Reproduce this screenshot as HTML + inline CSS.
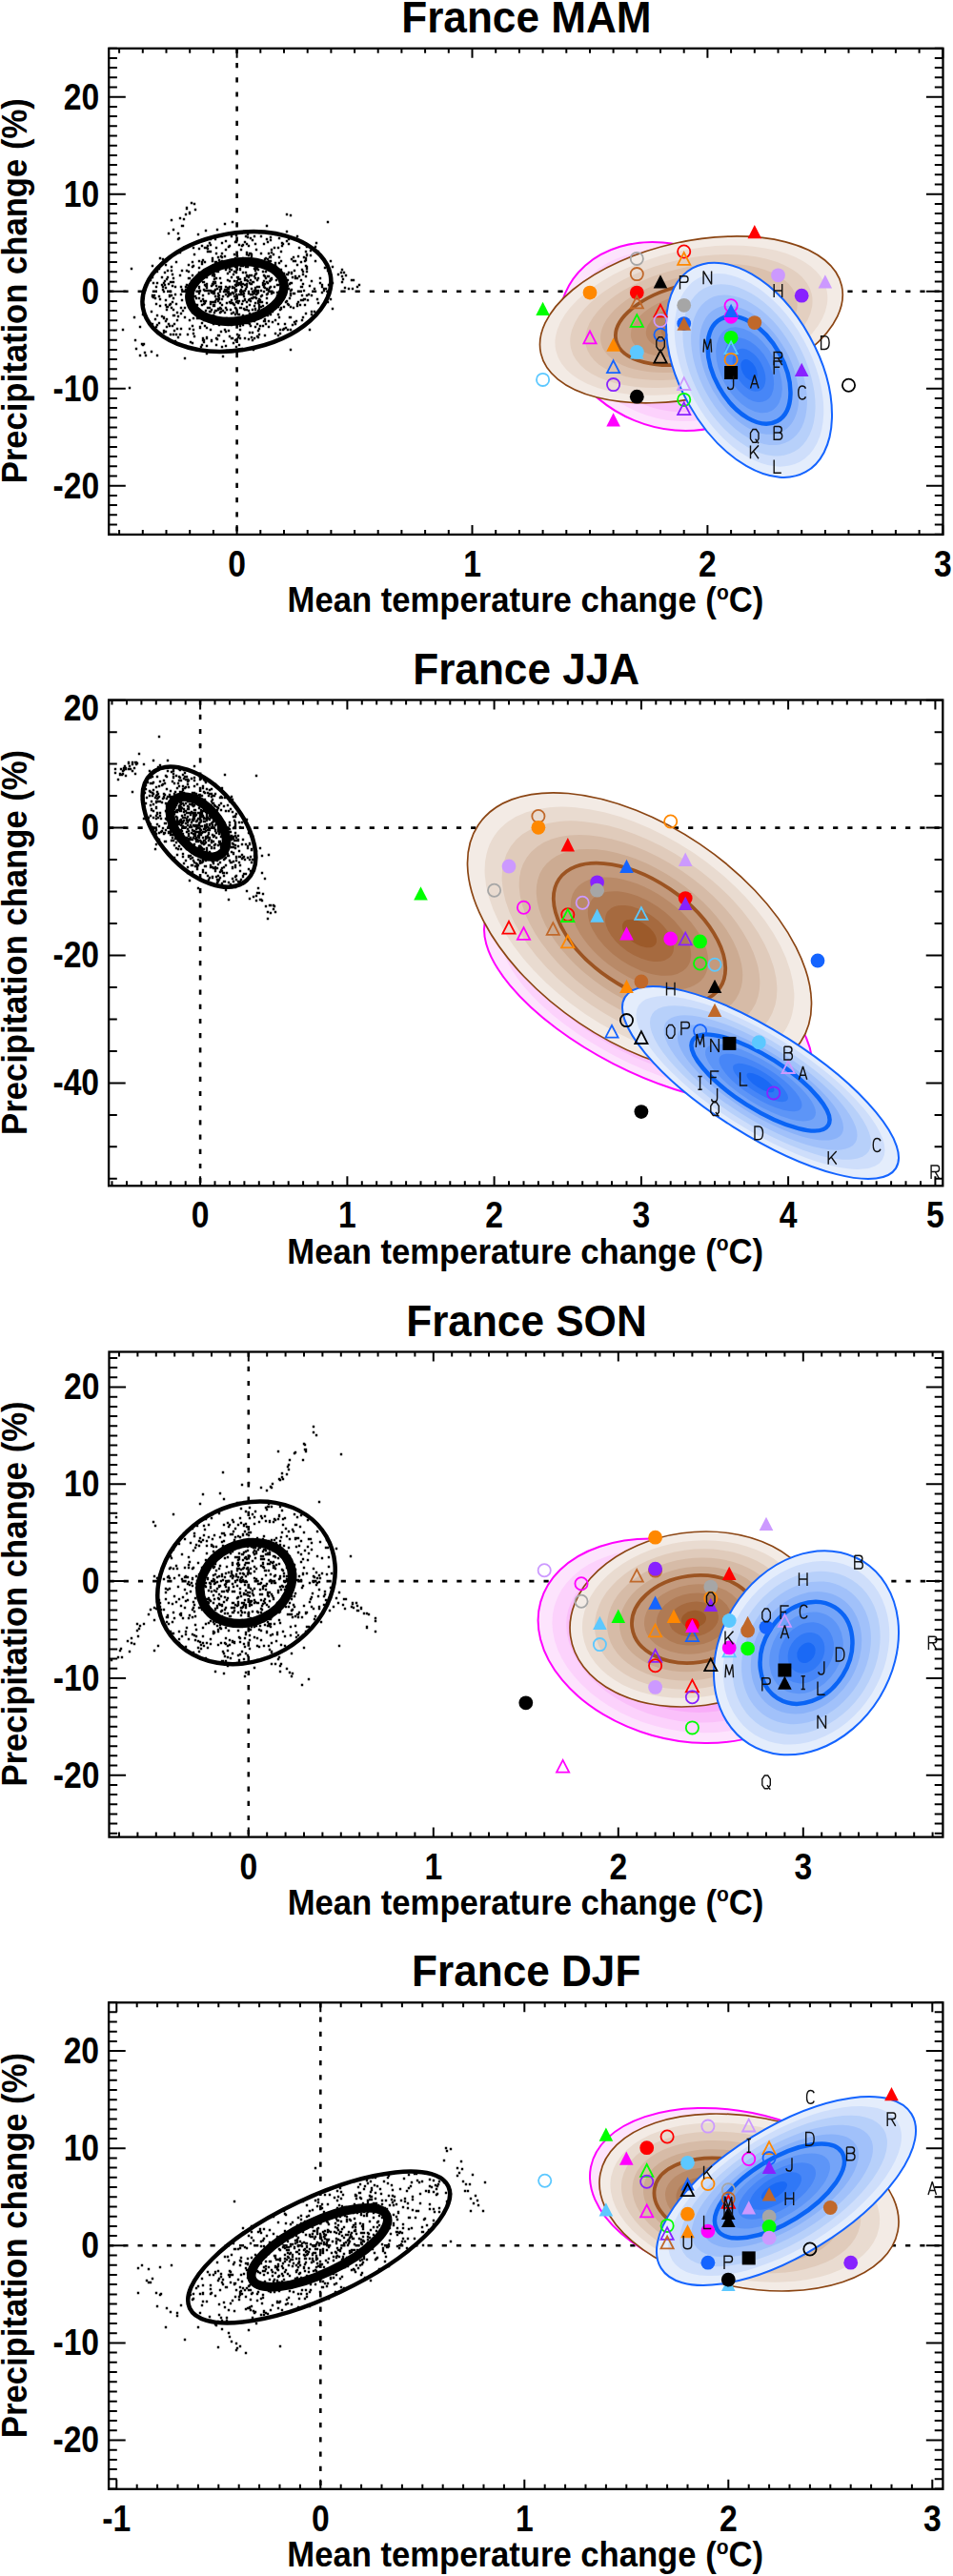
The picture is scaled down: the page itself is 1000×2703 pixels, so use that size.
<!DOCTYPE html><html><head><meta charset="utf-8"><style>html,body{margin:0;padding:0;background:#fff}svg{display:block}</style></head><body>
<svg width="1000" height="2703" viewBox="0 0 1000 2703" style="font-family:'Liberation Sans',sans-serif;font-weight:bold">
<defs><clipPath id="cp0"><rect x="114.2" y="50.8" width="875.3" height="510.1"/></clipPath><clipPath id="cp1"><rect x="114.1" y="734.5" width="875.2" height="509.8"/></clipPath><clipPath id="cp2"><rect x="114.5" y="1418.5" width="874.9" height="509.1"/></clipPath><clipPath id="cp3"><rect x="114.1" y="2101.3" width="875.3" height="510.5"/></clipPath></defs>
<g clip-path="url(#cp0)">
<line x1="248.6" y1="50.8" x2="248.6" y2="560.9" stroke="#000" stroke-width="2.6" stroke-dasharray="5.2 10"/>
<line x1="114.2" y1="305.7" x2="989.5" y2="305.7" stroke="#000" stroke-width="2.6" stroke-dasharray="5.2 10"/>
<path d="M287 267h0M205 311h0M321 329h0M270 281h0M244 307h0M293 291h0M265 306h0M284 293h0M240 310h0M206 322h0M252 323h0M246 311h0M202 275h0M327 295h0M217 344h0M164 343h0M222 357h0M301 253h0M240 303h0M260 280h0M190 301h0M192 326h0M257 276h0M239 307h0M216 242h0M278 337h0M316 294h0M267 290h0M298 291h0M242 338h0M349 297h0M243 248h0M182 296h0M323 315h0M263 332h0M226 326h0M209 286h0M277 306h0M181 288h0M284 252h0M281 272h0M255 306h0M287 321h0M301 316h0M225 306h0M238 281h0M240 308h0M226 316h0M287 284h0M191 284h0M271 305h0M237 283h0M262 349h0M269 262h0M225 289h0M224 340h0M217 371h0M283 276h0M309 284h0M248 309h0M257 294h0M217 300h0M221 251h0M222 325h0M229 285h0M295 323h0M213 310h0M342 303h0M194 376h0M262 340h0M331 274h0M293 276h0M277 301h0M262 320h0M251 277h0M187 354h0M228 356h0M322 259h0M231 304h0M320 320h0M200 359h0M185 351h0M251 316h0M288 282h0M237 348h0M338 301h0M271 316h0M250 318h0M223 317h0M252 346h0M281 290h0M289 285h0M230 310h0M268 305h0M227 355h0M243 315h0M344 284h0M260 338h0M164 301h0M200 303h0M249 316h0M291 299h0M322 280h0M236 328h0M296 258h0M223 335h0M224 298h0M249 316h0M263 309h0M262 272h0M263 294h0M253 296h0M294 356h0M270 275h0M160 311h0M266 296h0M241 317h0M322 267h0M217 260h0M227 314h0M247 357h0M318 288h0M174 302h0M220 323h0M305 305h0M236 304h0M262 314h0M267 282h0M226 297h0M202 306h0M223 271h0M200 312h0M255 331h0M322 268h0M241 301h0M167 311h0M257 254h0M221 264h0M229 270h0M321 264h0M216 300h0M259 336h0M239 294h0M190 309h0M247 299h0M277 256h0M334 264h0M261 258h0M170 332h0M176 355h0M282 337h0M309 338h0M305 333h0M273 317h0M248 304h0M241 309h0M288 260h0M238 337h0M223 299h0M280 251h0M184 301h0M170 291h0M244 318h0M248 285h0M314 290h0M293 333h0M231 335h0M247 306h0M216 316h0M261 268h0M225 289h0M280 303h0M293 250h0M292 299h0M246 267h0M236 328h0M203 346h0M216 326h0M282 277h0M248 247h0M247 271h0M183 340h0M321 279h0M258 248h0M203 350h0M227 260h0M292 340h0M237 309h0M247 280h0M244 302h0M306 287h0M228 277h0M270 353h0M315 320h0M216 331h0M225 288h0M237 363h0M204 300h0M268 256h0M266 367h0M338 307h0M217 354h0M253 262h0M232 297h0M129 346h0M243 355h0M262 315h0M249 269h0M236 269h0M280 318h0M269 313h0M180 284h0M309 308h0M175 274h0M259 294h0M224 320h0M231 318h0M267 279h0M263 342h0M176 284h0M347 314h0M207 334h0M172 349h0M298 345h0M256 311h0M231 318h0M175 325h0M266 308h0M245 319h0M256 308h0M215 260h0M186 345h0M187 265h0M334 318h0M202 289h0M235 306h0M226 317h0M215 275h0M233 255h0M298 296h0M316 275h0M268 312h0M202 342h0M317 310h0M276 321h0M340 305h0M308 323h0M287 307h0M286 327h0M303 256h0M222 317h0M231 328h0M165 285h0M224 287h0M228 241h0M306 272h0M278 331h0M231 306h0M238 304h0M217 355h0M227 326h0M179 306h0M279 292h0M349 324h0M326 268h0M301 225h0M307 341h0M138 282h0M247 254h0M302 288h0M141 333h0M259 317h0M310 274h0M194 333h0M289 320h0M273 315h0M312 320h0M282 274h0M254 301h0M284 270h0M290 280h0M165 341h0M317 283h0M281 254h0M247 330h0M162 310h0M181 342h0M322 310h0M273 342h0M247 304h0M222 358h0M154 300h0M203 301h0M289 246h0M225 293h0M196 310h0M272 301h0M240 245h0M221 327h0M203 260h0M303 251h0M180 323h0M248 278h0M229 311h0M242 309h0M243 355h0M301 300h0M184 309h0M259 265h0M238 279h0M243 291h0M276 299h0M247 334h0M174 348h0M226 296h0M181 300h0M347 274h0M209 302h0M245 328h0M179 319h0M209 261h0M203 334h0M163 313h0M260 295h0M270 294h0M177 340h0M232 348h0M265 349h0M191 315h0M306 297h0M238 368h0M186 328h0M241 336h0M292 330h0M199 299h0M171 304h0M221 319h0M260 336h0M213 314h0M279 285h0M316 315h0M227 275h0M211 364h0M238 318h0M248 317h0M234 277h0M263 332h0M279 285h0M282 305h0M253 323h0M195 363h0M319 305h0M268 318h0M327 310h0M246 295h0M247 314h0M274 322h0M252 355h0M197 308h0M283 295h0M292 260h0M172 347h0M172 306h0M210 305h0M173 299h0M224 308h0M203 323h0M242 337h0M233 314h0M220 283h0M284 269h0M242 317h0M282 290h0M268 292h0M202 360h0M271 283h0M230 313h0M223 281h0M325 300h0M321 273h0M173 295h0M258 272h0M285 292h0M226 311h0M248 305h0M265 313h0M229 324h0M319 270h0M251 362h0M204 299h0M286 338h0M289 278h0M177 245h0M227 314h0M229 352h0M231 275h0M304 313h0M223 289h0M215 342h0M370 303h0M261 291h0M232 324h0M193 260h0M203 316h0M278 352h0M199 303h0M302 346h0M255 309h0M276 342h0M227 362h0M321 290h0M306 304h0M321 271h0M245 308h0M330 263h0M252 342h0M341 281h0M208 295h0M274 248h0M218 261h0M249 351h0M227 292h0M196 299h0M277 300h0M281 297h0M202 328h0M235 277h0M204 320h0M268 325h0M271 347h0M278 329h0M185 275h0M284 330h0M230 324h0M261 315h0M272 345h0M262 329h0M177 298h0M267 337h0M251 297h0M223 274h0M214 304h0M251 330h0M187 251h0M263 289h0M191 304h0M261 290h0M230 352h0M251 257h0M318 315h0M286 245h0M268 288h0M261 334h0M311 337h0M182 351h0M241 285h0M268 304h0M252 282h0M225 296h0M320 274h0M312 248h0M240 347h0M259 294h0M237 309h0M270 276h0M327 330h0M230 314h0M300 292h0M200 309h0M197 351h0M252 293h0M282 266h0M300 344h0M293 309h0M278 272h0M280 237h0M300 279h0M294 289h0M187 332h0M281 331h0M233 364h0M263 250h0M318 298h0M288 323h0M278 290h0M195 301h0M203 279h0M182 313h0M251 309h0M267 355h0M275 317h0M305 226h0M324 309h0M198 278h0M298 295h0M237 301h0M277 295h0M236 346h0M256 324h0M246 285h0M291 246h0M212 362h0M215 318h0M248 300h0M248 254h0M199 292h0M312 292h0M264 313h0M245 328h0M344 317h0M310 290h0M253 304h0M291 307h0M316 301h0M253 299h0M257 325h0M221 327h0M267 329h0M298 287h0M240 308h0M292 322h0M160 340h0M300 317h0M227 266h0M285 262h0M203 311h0M295 264h0M175 322h0M182 296h0M244 355h0M239 302h0M271 292h0M220 255h0M190 345h0M225 290h0M248 300h0M303 303h0M189 289h0M288 316h0M305 297h0M212 252h0M295 294h0M253 279h0M215 299h0M206 325h0M259 298h0M298 288h0M252 355h0M254 319h0M244 233h0M239 287h0M244 301h0M172 297h0M226 339h0M197 302h0M282 304h0M202 313h0M248 253h0M243 341h0M287 320h0M310 340h0M253 307h0M240 259h0M298 302h0M254 306h0M259 325h0M248 324h0M271 292h0M214 316h0M274 305h0M265 357h0M263 298h0M305 346h0M285 308h0M219 337h0M264 269h0M268 343h0M318 285h0M242 325h0M248 312h0M261 326h0M289 276h0M179 351h0M251 352h0M174 278h0M312 319h0M312 278h0M189 351h0M225 328h0M269 305h0M175 293h0M211 316h0M280 313h0M219 285h0M269 287h0M170 299h0M212 258h0M267 332h0M243 283h0M294 294h0M267 248h0M204 353h0M258 303h0M171 272h0M250 354h0M218 323h0M306 286h0M266 312h0M265 296h0M231 335h0M308 274h0M175 335h0M180 310h0M234 311h0M250 293h0M268 324h0M214 336h0M327 327h0M224 331h0M279 271h0M298 304h0M261 306h0M228 303h0M221 346h0M302 300h0M174 320h0M261 308h0M340 303h0M232 327h0M231 337h0M280 296h0M229 314h0M220 332h0M182 292h0M213 355h0M210 328h0M276 285h0M301 243h0M245 288h0M229 308h0M221 257h0M174 315h0M200 301h0M214 296h0M237 262h0M226 275h0M305 322h0M271 326h0M160 291h0M279 340h0M257 355h0M222 285h0M278 302h0M284 301h0M295 283h0M209 301h0M226 304h0M167 282h0M278 330h0M268 302h0M212 277h0M274 266h0M255 298h0M225 321h0M266 329h0M255 316h0M194 323h0M289 350h0M255 279h0M253 297h0M276 279h0M262 297h0M159 327h0M225 308h0M174 337h0M289 336h0M302 294h0M259 289h0M262 297h0M270 308h0M234 326h0M206 313h0M201 295h0M249 291h0M207 320h0M215 305h0M158 294h0M213 357h0M181 317h0M221 305h0M265 336h0M265 252h0M301 288h0M214 335h0M263 266h0M257 338h0M230 273h0M183 347h0M169 277h0M291 313h0M233 270h0M183 331h0M229 316h0M236 235h0M214 319h0M209 281h0M285 293h0M271 301h0M304 333h0M272 320h0M214 357h0M233 320h0M203 311h0M219 305h0M272 322h0M277 289h0M200 316h0M271 354h0M246 302h0M259 290h0M260 249h0M233 314h0M151 308h0M299 340h0M210 344h0M215 333h0M275 310h0M227 284h0M319 314h0M338 299h0M258 280h0M204 267h0M173 286h0M190 323h0M217 298h0M217 286h0M253 309h0M238 334h0M313 317h0M190 329h0M218 305h0M189 265h0M175 343h0M185 319h0M297 314h0M298 322h0M264 298h0M219 308h0M231 336h0M179 296h0M300 309h0M217 291h0M283 302h0M178 320h0M277 337h0M227 300h0M212 275h0M223 272h0M202 280h0M269 309h0M332 255h0M285 265h0M242 318h0M360 293h0M237 253h0M325 346h0M255 271h0M242 308h0M307 291h0M294 325h0M219 264h0M198 285h0M198 292h0M267 308h0M217 302h0M272 324h0M231 323h0M241 353h0M222 300h0M295 288h0M224 296h0M182 331h0M250 299h0M167 339h0M212 339h0M272 244h0M284 294h0M260 339h0M208 246h0M295 324h0M336 297h0M259 267h0M331 259h0M308 308h0M293 270h0M284 274h0M172 334h0M272 314h0M265 325h0M308 270h0M209 302h0M322 282h0M271 318h0M272 351h0M223 298h0M255 286h0M233 266h0M259 300h0M260 246h0M248 286h0M310 292h0M230 301h0M151 320h0M295 306h0M303 320h0M330 327h0M305 310h0M281 308h0M195 304h0M292 352h0M248 364h0M183 267h0M304 298h0M230 341h0M168 321h0M250 330h0M247 323h0M165 297h0M217 354h0M293 308h0M264 267h0M259 339h0M260 279h0M274 311h0M237 276h0M290 294h0M259 322h0M180 280h0M229 325h0M317 301h0M271 307h0M238 325h0M263 330h0M218 264h0M264 303h0M255 333h0M345 299h0M270 305h0M220 305h0M280 304h0M171 301h0M217 305h0M209 313h0M293 306h0M237 323h0M295 274h0M314 260h0M241 295h0M224 321h0M270 340h0M259 301h0M266 332h0M257 314h0M320 314h0M252 298h0M232 301h0M282 343h0M284 249h0M188 250h0M225 332h0M199 345h0M163 335h0M136 407h0M209 334h0M228 277h0M225 317h0M250 291h0M255 257h0M182 325h0M235 358h0M297 256h0M278 335h0M164 319h0M278 298h0M265 306h0M264 354h0M220 327h0M165 331h0M213 273h0M180 296h0M267 305h0M230 336h0M330 303h0M296 295h0M283 270h0M209 308h0M255 341h0M298 302h0M269 282h0M303 286h0M147 343h0M178 342h0M243 329h0M262 289h0M212 320h0M178 311h0M305 367h0M218 336h0M161 297h0M217 333h0M261 356h0M231 292h0M288 301h0M298 304h0M267 321h0M257 315h0M209 274h0M291 310h0M211 294h0M313 269h0M302 319h0M210 343h0M232 269h0M246 320h0M349 280h0M160 279h0M270 301h0M317 336h0M276 297h0M226 251h0M280 275h0M211 327h0M265 309h0M297 346h0M213 296h0M326 263h0M196 284h0M176 322h0M257 305h0M241 282h0M234 374h0M210 331h0M225 320h0M227 277h0M233 274h0M259 256h0M172 333h0M214 359h0M218 258h0M257 292h0M226 275h0M241 258h0M375 301h0M254 258h0M239 311h0M160 310h0M294 350h0M240 275h0M245 360h0M306 286h0M263 316h0M336 292h0M168 314h0M322 285h0M199 336h0M294 346h0M241 339h0M268 305h0M318 333h0M150 330h0M312 321h0M305 308h0M186 336h0M296 255h0M168 271h0M176 291h0M268 281h0M178 310h0M283 274h0M333 314h0M232 303h0M257 299h0M217 363h0M262 266h0M276 299h0M161 312h0M184 358h0M221 317h0M212 333h0M289 288h0M258 339h0M268 284h0M228 285h0M280 309h0M222 307h0M264 289h0M344 233h0M252 283h0M258 286h0M229 314h0M196 219h0M199 223h0M195 225h0M193 230h0M204 214h0M187 245h0M196 218h0M205 220h0M189 229h0M191 237h0M182 241h0M180 231h0M201 213h0M192 237h0M199 224h0M363 289h0M369 294h0M371 294h0M366 303h0M361 286h0M362 302h0M359 296h0M377 299h0M359 290h0M355 288h0M359 283h0M358 286h0M147 373h0M152 370h0M151 361h0M143 366h0M165 373h0M149 361h0M159 369h0M153 373h0M142 357h0M150 362h0" stroke="#000" stroke-width="2.4" stroke-linecap="square" fill="none"/>
<ellipse transform="translate(248.4 306.0) rotate(-9.91)" rx="99.9" ry="61.3" fill="none" stroke="#000" stroke-width="4.5"/>
<ellipse transform="translate(248.4 306.0) rotate(-9.91)" rx="50.0" ry="30.6" fill="none" stroke="#000" stroke-width="9.5"/>
<ellipse transform="translate(702.0 353.0) rotate(22.46)" rx="118.0" ry="95.4" fill="#fde4fd"/><ellipse transform="translate(702.0 353.0) rotate(22.46)" rx="106.2" ry="85.8" fill="#fcd2fc"/><ellipse transform="translate(702.0 353.0) rotate(22.46)" rx="94.4" ry="76.3" fill="#fac0fa"/><ellipse transform="translate(702.0 353.0) rotate(22.46)" rx="82.6" ry="66.8" fill="#f9adf9"/><ellipse transform="translate(702.0 353.0) rotate(22.46)" rx="70.8" ry="57.2" fill="#f79bf7"/><ellipse transform="translate(702.0 353.0) rotate(22.46)" rx="59.0" ry="47.7" fill="#f689f6"/><ellipse transform="translate(702.0 353.0) rotate(22.46)" rx="47.2" ry="38.1" fill="#f477f4"/><ellipse transform="translate(702.0 353.0) rotate(22.46)" rx="35.4" ry="28.6" fill="#f364f3"/><ellipse transform="translate(702.0 353.0) rotate(22.46)" rx="23.6" ry="19.1" fill="#f152f1"/><ellipse transform="translate(702.0 353.0) rotate(22.46)" rx="11.8" ry="9.5" fill="#f040f0"/><ellipse transform="translate(702.0 353.0) rotate(22.46)" rx="118.0" ry="95.4" fill="none" stroke="#ff00ff" stroke-width="2"/><ellipse transform="translate(702.0 353.0) rotate(22.46)" rx="59.0" ry="47.7" fill="none" stroke="#ff00ff" stroke-width="4.5"/>
<ellipse transform="translate(725.4 335.4) rotate(-12.66)" rx="161.8" ry="81.9" fill="#f3ebe5"/><ellipse transform="translate(725.4 336.2) rotate(-12.66)" rx="145.6" ry="73.7" fill="#ebddd3"/><ellipse transform="translate(725.4 337.0) rotate(-12.66)" rx="129.5" ry="65.5" fill="#e3cfc0"/><ellipse transform="translate(725.4 337.8) rotate(-12.66)" rx="113.3" ry="57.3" fill="#dbc1ae"/><ellipse transform="translate(725.4 338.6) rotate(-12.66)" rx="97.1" ry="49.1" fill="#d3b39c"/><ellipse transform="translate(725.4 339.4) rotate(-12.66)" rx="80.9" ry="40.9" fill="#caa489"/><ellipse transform="translate(725.4 340.2) rotate(-12.66)" rx="64.7" ry="32.7" fill="#c29677"/><ellipse transform="translate(725.4 341.0) rotate(-12.66)" rx="48.5" ry="24.6" fill="#ba8865"/><ellipse transform="translate(725.4 341.8) rotate(-12.66)" rx="32.4" ry="16.4" fill="#b27a52"/><ellipse transform="translate(725.4 342.6) rotate(-12.66)" rx="16.2" ry="8.2" fill="#aa6c40"/><ellipse transform="translate(725.4 335.4) rotate(-12.66)" rx="161.8" ry="81.9" fill="none" stroke="#8b4513" stroke-width="1.7"/><ellipse transform="translate(725.4 339.4) rotate(-12.66)" rx="80.9" ry="40.9" fill="none" stroke="#9c5422" stroke-width="3.8"/>
<ellipse transform="translate(786.0 388.3) rotate(60.92)" rx="122.3" ry="72.7" fill="#e4edfc"/><ellipse transform="translate(786.0 388.3) rotate(60.92)" rx="110.1" ry="65.4" fill="#cedefb"/><ellipse transform="translate(786.0 388.3) rotate(60.92)" rx="97.9" ry="58.1" fill="#b7d0fa"/><ellipse transform="translate(786.0 388.3) rotate(60.92)" rx="85.6" ry="50.9" fill="#a1c1fa"/><ellipse transform="translate(786.0 388.3) rotate(60.92)" rx="73.4" ry="43.6" fill="#8ab2f9"/><ellipse transform="translate(786.0 388.3) rotate(60.92)" rx="61.2" ry="36.3" fill="#74a4f8"/><ellipse transform="translate(786.0 388.3) rotate(60.92)" rx="48.9" ry="29.1" fill="#5d95f7"/><ellipse transform="translate(786.0 388.3) rotate(60.92)" rx="36.7" ry="21.8" fill="#4786f7"/><ellipse transform="translate(786.0 388.3) rotate(60.92)" rx="24.5" ry="14.5" fill="#3078f6"/><ellipse transform="translate(786.0 388.3) rotate(60.92)" rx="12.2" ry="7.3" fill="#1a69f5"/><ellipse transform="translate(786.0 388.3) rotate(60.92)" rx="122.3" ry="72.7" fill="none" stroke="#1464ff" stroke-width="2"/><ellipse transform="translate(786.0 388.3) rotate(60.92)" rx="61.2" ry="36.3" fill="none" stroke="#0a64f5" stroke-width="4.5"/>
<path d="M569.6 316.7L576.9 331.0L562.3 331.0Z" fill="#00ff00"/>
<circle cx="569.6" cy="398.4" r="6.6" fill="none" stroke="#5cc8ff" stroke-width="1.8"/>
<circle cx="619.0" cy="307.1" r="7.4" fill="#ff8800"/>
<path d="M619.0 347.5L625.6 360.3L612.4 360.3Z" fill="none" stroke="#ff00ff" stroke-width="1.8" stroke-linejoin="miter"/>
<path d="M643.6 354.5L650.9 368.8L636.3 368.8Z" fill="#ff8800"/>
<path d="M643.6 378.3L650.2 391.1L637.0 391.1Z" fill="none" stroke="#1464ff" stroke-width="1.8" stroke-linejoin="miter"/>
<circle cx="643.6" cy="403.6" r="6.6" fill="none" stroke="#8822ff" stroke-width="1.8"/>
<path d="M643.6 433.2L650.9 447.5L636.3 447.5Z" fill="#ff00ff"/>
<circle cx="668.3" cy="271.4" r="6.6" fill="none" stroke="#a6a6a6" stroke-width="1.8"/>
<circle cx="668.3" cy="287.6" r="6.6" fill="none" stroke="#c0682a" stroke-width="1.8"/>
<circle cx="668.3" cy="307.1" r="7.4" fill="#ff0000"/>
<path d="M668.3 310.6L674.9 323.4L661.7 323.4Z" fill="none" stroke="#c0682a" stroke-width="1.8" stroke-linejoin="miter"/>
<path d="M668.3 330.1L674.9 342.9L661.7 342.9Z" fill="none" stroke="#00ff00" stroke-width="1.8" stroke-linejoin="miter"/>
<path d="M668.3 362.2L675.6 376.5L661.0 376.5Z" fill="#5cc8ff"/>
<circle cx="668.3" cy="369.4" r="7.4" fill="#5cc8ff"/>
<circle cx="668.3" cy="416.2" r="7.4" fill="#000000"/>
<path d="M693.0 288.3L700.3 302.6L685.7 302.6Z" fill="#000000"/>
<path d="M693.0 319.6L699.6 332.4L686.4 332.4Z" fill="none" stroke="#ff0000" stroke-width="1.8" stroke-linejoin="miter"/>
<circle cx="693.0" cy="336.5" r="6.6" fill="none" stroke="#cc99ff" stroke-width="1.8"/>
<circle cx="693.0" cy="351.2" r="6.6" fill="none" stroke="#1464ff" stroke-width="1.8"/>
<path d="M693.0 367.8L699.6 380.6L686.4 380.6Z" fill="none" stroke="#000000" stroke-width="1.8" stroke-linejoin="miter"/>
<circle cx="717.7" cy="264.0" r="6.6" fill="none" stroke="#ff0000" stroke-width="1.8"/>
<path d="M717.7 265.0L724.3 277.8L711.1 277.8Z" fill="none" stroke="#ff8800" stroke-width="1.8" stroke-linejoin="miter"/>
<circle cx="717.7" cy="320.3" r="7.4" fill="#a6a6a6"/>
<circle cx="717.7" cy="339.6" r="7.4" fill="#1464ff"/>
<path d="M717.7 332.4L725.0 346.7L710.4 346.7Z" fill="#c0682a"/>
<path d="M717.7 396.2L724.3 409.0L711.1 409.0Z" fill="none" stroke="#cc99ff" stroke-width="1.8" stroke-linejoin="miter"/>
<circle cx="717.7" cy="419.4" r="6.6" fill="none" stroke="#00ff00" stroke-width="1.8"/>
<path d="M717.7 422.4L724.3 435.2L711.1 435.2Z" fill="none" stroke="#8822ff" stroke-width="1.8" stroke-linejoin="miter"/>
<path d="M791.8 235.9L799.1 250.2L784.5 250.2Z" fill="#ff0000"/>
<circle cx="816.5" cy="288.8" r="7.4" fill="#cc99ff"/>
<path d="M865.9 288.3L873.1 302.6L858.6 302.6Z" fill="#cc99ff"/>
<circle cx="841.2" cy="310.2" r="7.4" fill="#8822ff"/>
<circle cx="767.1" cy="332.3" r="7.4" fill="#ff00ff"/>
<circle cx="767.1" cy="320.7" r="6.6" fill="none" stroke="#ff00ff" stroke-width="1.8"/>
<path d="M767.1 318.8L774.4 333.1L759.8 333.1Z" fill="#1464ff"/>
<circle cx="791.8" cy="338.6" r="7.4" fill="#c0682a"/>
<circle cx="767.1" cy="354.3" r="7.4" fill="#00ff00"/>
<path d="M767.1 358.4L773.7 371.2L760.5 371.2Z" fill="none" stroke="#5cc8ff" stroke-width="1.8" stroke-linejoin="miter"/>
<circle cx="767.1" cy="377.4" r="6.6" fill="none" stroke="#ff8800" stroke-width="1.8"/>
<rect x="760.1" y="384.0" width="14" height="14" fill="#000000"/>
<path d="M841.2 380.7L848.5 395.0L833.9 395.0Z" fill="#8822ff"/>
<circle cx="890.5" cy="404.3" r="6.6" fill="none" stroke="#000000" stroke-width="1.8"/>
<g fill="none" stroke="#111" stroke-width="1.65" stroke-miterlimit="3"><path transform="translate(688.8 353.7) scale(0.85 0.92)" d="M3 0H7L10 4V11L7 15H3L0 11V4Z"/><path transform="translate(713.5 289.7) scale(0.85 0.92)" d="M0 15V0H7Q10 0 10 3.5Q10 7 7 7H0"/><path transform="translate(738.1 284.5) scale(0.85 0.92)" d="M0 15V0L10 15V0"/><path transform="translate(738.1 355.8) scale(0.85 0.92)" d="M0 15L1 0L5 12L9 0L10 15"/><path transform="translate(812.2 298.1) scale(0.85 0.92)" d="M0 0V15M10 0V15M0 7.5H10"/><path transform="translate(762.8 394.6) scale(0.85 0.92)" d="M8 0V11Q8 15 4.5 15Q1 15 1 12"/><path transform="translate(787.5 393.6) scale(0.85 0.92)" d="M0 15L5 0L10 15M2 10H8"/><path transform="translate(812.2 369.4) scale(0.85 0.92)" d="M0 15V0H7Q10 0 10 3.5Q10 7 7 7H0M5 7L10 15"/><path transform="translate(812.2 378.9) scale(0.85 0.92)" d="M10 0H0V15M0 7H7"/><path transform="translate(861.6 352.7) scale(0.85 0.92)" d="M0 0H4.5Q10 0 10 7.5Q10 15 4.5 15H0Z"/><path transform="translate(836.9 405.1) scale(0.85 0.92)" d="M10 3Q9 0 5.5 0Q1 0 1 7.5Q1 15 5.5 15Q9 15 10 12"/><path transform="translate(787.5 450.5) scale(0.85 0.92)" d="M3 0H7L10 4V11L7 15H3L0 11V4ZM6 11L10 16"/><path transform="translate(812.2 447.5) scale(0.85 0.92)" d="M0 0H6Q9.5 0 9.5 3.6Q9.5 7 6 7H0M6 7Q10 7 10 11Q10 15 6 15H0V0"/><path transform="translate(787.5 467.4) scale(0.85 0.92)" d="M0 0V15M10 0L0 10M3.5 6.5L10 15"/><path transform="translate(812.2 482.4) scale(0.85 0.92)" d="M0 0V15H9"/></g>
</g>
<g clip-path="url(#cp1)">
<line x1="210.1" y1="734.5" x2="210.1" y2="1244.3" stroke="#000" stroke-width="2.6" stroke-dasharray="5.2 10"/>
<line x1="114.1" y1="868.6" x2="989.3" y2="868.6" stroke="#000" stroke-width="2.6" stroke-dasharray="5.2 10"/>
<path d="M220 870h0M229 848h0M183 835h0M234 916h0M179 873h0M250 877h0M208 873h0M189 861h0M232 863h0M209 873h0M228 897h0M199 844h0M204 816h0M222 828h0M269 893h0M210 834h0M182 848h0M230 845h0M247 856h0M160 822h0M216 909h0M205 853h0M235 867h0M245 878h0M175 846h0M218 902h0M239 871h0M225 845h0M208 843h0M198 848h0M217 865h0M220 860h0M227 862h0M202 871h0M204 857h0M264 905h0M207 907h0M224 906h0M278 922h0M230 883h0M248 919h0M234 886h0M251 863h0M194 811h0M214 902h0M230 893h0M191 848h0M196 859h0M206 909h0M239 887h0M215 873h0M237 900h0M264 892h0M213 904h0M181 836h0M207 912h0M207 866h0M199 868h0M233 896h0M211 884h0M189 861h0M232 866h0M204 832h0M202 861h0M194 858h0M216 852h0M238 869h0M232 878h0M205 856h0M228 850h0M186 862h0M217 900h0M204 886h0M210 853h0M188 847h0M210 846h0M216 878h0M255 881h0M204 858h0M159 841h0M168 856h0M182 849h0M236 813h0M213 899h0M208 890h0M160 815h0M198 875h0M231 905h0M252 914h0M198 849h0M213 902h0M170 842h0M153 824h0M191 856h0M233 863h0M202 843h0M218 832h0M204 867h0M233 927h0M185 857h0M193 808h0M230 874h0M213 825h0M189 839h0M176 798h0M203 866h0M176 809h0M216 869h0M247 864h0M217 856h0M208 843h0M218 850h0M190 842h0M185 845h0M218 871h0M164 847h0M158 845h0M205 897h0M219 874h0M209 845h0M192 828h0M245 925h0M189 874h0M239 885h0M180 882h0M164 859h0M193 839h0M217 867h0M189 833h0M172 875h0M197 849h0M164 835h0M192 899h0M192 863h0M220 871h0M185 880h0M232 891h0M191 864h0M156 858h0M183 900h0M210 882h0M187 882h0M219 848h0M226 846h0M248 854h0M188 807h0M244 852h0M260 888h0M184 831h0M197 870h0M185 884h0M234 875h0M231 883h0M252 868h0M171 838h0M221 855h0M200 853h0M218 868h0M214 886h0M209 888h0M211 899h0M181 879h0M238 916h0M211 857h0M221 858h0M172 874h0M179 874h0M226 851h0M165 834h0M275 898h0M184 869h0M269 945h0M242 873h0M203 879h0M213 873h0M215 882h0M227 874h0M220 866h0M179 855h0M201 863h0M247 868h0M189 816h0M196 861h0M222 884h0M214 891h0M254 863h0M246 868h0M244 911h0M189 875h0M186 865h0M222 836h0M190 860h0M217 925h0M182 815h0M194 855h0M179 837h0M194 815h0M248 899h0M165 815h0M213 879h0M226 914h0M282 897h0M205 880h0M201 908h0M171 869h0M204 841h0M203 846h0M223 867h0M186 850h0M223 868h0M220 829h0M188 862h0M209 882h0M218 896h0M204 877h0M219 923h0M245 857h0M218 901h0M241 887h0M199 885h0M208 902h0M186 864h0M202 860h0M228 902h0M238 895h0M161 844h0M242 928h0M262 885h0M195 818h0M160 835h0M211 876h0M193 845h0M151 859h0M186 859h0M214 897h0M226 871h0M205 853h0M198 861h0M168 841h0M204 819h0M236 886h0M222 890h0M183 833h0M244 910h0M197 841h0M196 891h0M230 872h0M238 869h0M214 850h0M168 803h0M250 882h0M185 890h0M167 773h0M258 917h0M189 842h0M213 857h0M157 809h0M195 903h0M209 879h0M163 873h0M193 849h0M211 883h0M186 870h0M204 859h0M185 851h0M190 866h0M164 886h0M184 852h0M250 877h0M189 845h0M206 870h0M171 806h0M209 891h0M192 867h0M209 814h0M255 900h0M243 836h0M176 836h0M204 845h0M188 825h0M183 849h0M210 835h0M241 863h0M252 926h0M164 856h0M243 879h0M192 813h0M216 852h0M191 831h0M139 831h0M241 866h0M181 870h0M182 808h0M245 896h0M252 925h0M179 830h0M220 856h0M190 844h0M242 905h0M236 887h0M203 875h0M259 860h0M167 825h0M198 853h0M224 851h0M202 900h0M193 852h0M234 930h0M223 843h0M194 851h0M164 841h0M187 870h0M216 884h0M241 841h0M244 922h0M209 866h0M212 855h0M173 874h0M224 862h0M197 863h0M237 934h0M248 879h0M225 896h0M219 848h0M240 889h0M186 868h0M186 843h0M230 884h0M212 890h0M225 835h0M240 926h0M216 878h0M213 844h0M265 881h0M243 877h0M184 847h0M243 889h0M210 818h0M204 804h0M198 898h0M166 805h0M231 837h0M217 861h0M164 826h0M255 919h0M212 854h0M222 882h0M180 869h0M240 870h0M223 904h0M203 857h0M177 867h0M206 891h0M217 867h0M231 921h0M197 820h0M198 886h0M186 861h0M211 889h0M173 834h0M189 850h0M247 931h0M235 925h0M225 887h0M234 882h0M229 925h0M215 851h0M220 887h0M208 883h0M217 854h0M164 848h0M236 930h0M180 839h0M190 849h0M263 899h0M243 905h0M168 853h0M214 891h0M260 890h0M258 886h0M220 865h0M214 859h0M206 833h0M211 862h0M233 864h0M247 887h0M261 874h0M222 851h0M206 883h0M192 843h0M212 857h0M200 879h0M186 827h0M231 885h0M161 858h0M203 875h0M212 891h0M202 845h0M201 852h0M228 847h0M203 861h0M243 881h0M247 874h0M170 824h0M225 877h0M216 821h0M219 875h0M240 888h0M253 923h0M182 816h0M213 915h0M161 829h0M206 882h0M216 903h0M229 865h0M239 876h0M198 835h0M227 895h0M232 897h0M215 885h0M247 908h0M198 847h0M267 898h0M205 874h0M191 833h0M241 878h0M165 865h0M176 843h0M200 855h0M188 841h0M217 892h0M221 908h0M204 876h0M190 891h0M215 867h0M198 899h0M223 921h0M217 878h0M180 841h0M210 815h0M230 867h0M256 917h0M167 836h0M215 832h0M206 836h0M207 861h0M236 901h0M161 851h0M262 886h0M240 898h0M211 840h0M217 893h0M235 846h0M202 908h0M178 834h0M225 858h0M197 846h0M173 864h0M197 818h0M164 871h0M261 912h0M174 871h0M200 898h0M211 814h0M236 925h0M210 817h0M202 843h0M205 833h0M204 859h0M233 837h0M210 855h0M203 872h0M165 831h0M208 869h0M204 905h0M182 856h0M149 839h0M243 894h0M192 837h0M191 862h0M220 894h0M187 850h0M217 890h0M173 822h0M246 882h0M252 908h0M158 813h0M214 858h0M196 853h0M213 845h0M168 820h0M196 885h0M206 906h0M203 832h0M214 851h0M232 850h0M161 871h0M172 819h0M212 815h0M223 876h0M235 873h0M227 864h0M235 902h0M239 873h0M179 853h0M212 852h0M178 848h0M188 865h0M238 882h0M177 874h0M195 868h0M220 859h0M262 902h0M176 844h0M222 853h0M218 858h0M233 827h0M167 874h0M187 822h0M196 873h0M211 867h0M226 912h0M211 835h0M254 897h0M199 868h0M199 924h0M192 829h0M233 890h0M166 837h0M197 823h0M212 905h0M203 903h0M264 891h0M207 883h0M220 921h0M220 880h0M230 875h0M218 897h0M245 904h0M188 888h0M200 888h0M176 854h0M241 873h0M233 885h0M229 919h0M200 901h0M204 896h0M257 902h0M188 815h0M246 843h0M171 838h0M217 828h0M195 851h0M238 886h0M153 843h0M235 883h0M196 879h0M242 849h0M180 837h0M165 853h0M211 861h0M224 905h0M204 872h0M208 877h0M190 874h0M197 823h0M227 896h0M184 880h0M201 844h0M226 910h0M166 833h0M189 851h0M217 858h0M197 866h0M237 883h0M266 884h0M220 871h0M174 843h0M200 868h0M179 876h0M192 862h0M182 812h0M207 835h0M171 823h0M196 815h0M215 848h0M153 828h0M223 866h0M233 887h0M215 859h0M210 863h0M233 911h0M216 880h0M206 855h0M209 874h0M158 831h0M245 895h0M142 812h0M199 841h0M179 871h0M252 899h0M193 879h0M247 920h0M190 840h0M226 823h0M233 914h0M213 851h0M190 863h0M237 869h0M239 896h0M219 852h0M248 900h0M229 868h0M189 831h0M208 878h0M141 806h0M223 863h0M231 883h0M183 854h0M232 861h0M204 839h0M230 923h0M195 864h0M235 863h0M235 893h0M193 832h0M211 842h0M190 847h0M219 887h0M206 862h0M170 872h0M166 841h0M226 872h0M202 881h0M215 839h0M226 911h0M155 821h0M163 837h0M207 823h0M211 871h0M205 866h0M204 825h0M214 818h0M214 831h0M220 845h0M157 830h0M230 863h0M231 886h0M168 820h0M186 852h0M198 819h0M199 844h0M232 887h0M169 859h0M195 826h0M229 872h0M211 851h0M228 903h0M190 851h0M237 882h0M172 837h0M231 915h0M182 870h0M239 896h0M194 827h0M179 844h0M202 915h0M238 878h0M247 863h0M175 815h0M210 782h0M213 884h0M175 838h0M233 875h0M175 844h0M208 853h0M247 877h0M223 920h0M244 930h0M235 919h0M215 819h0M203 859h0M172 836h0M216 872h0M173 883h0M211 817h0M218 919h0M181 820h0M166 858h0M226 858h0M248 903h0M174 864h0M219 898h0M189 831h0M212 846h0M222 902h0M232 836h0M178 842h0M247 890h0M245 869h0M188 846h0M202 832h0M203 887h0M160 868h0M197 857h0M212 835h0M182 836h0M267 889h0M203 853h0M217 828h0M176 853h0M207 881h0M229 870h0M201 817h0M166 837h0M263 914h0M192 875h0M273 890h0M239 845h0M161 798h0M188 863h0M235 910h0M191 836h0M217 855h0M184 831h0M227 879h0M251 893h0M232 892h0M186 870h0M186 836h0M204 850h0M250 888h0M216 850h0M206 879h0M191 872h0M193 868h0M275 916h0M201 853h0M251 905h0M265 877h0M206 879h0M180 856h0M228 911h0M212 874h0M214 862h0M269 814h0M213 840h0M165 838h0M210 855h0M198 880h0M250 925h0M211 853h0M240 944h0M245 886h0M239 898h0M205 909h0M197 910h0M193 817h0M229 861h0M190 819h0M196 808h0M183 868h0M174 883h0M209 877h0M158 865h0M213 827h0M186 859h0M180 810h0M241 878h0M219 859h0M247 866h0M183 822h0M238 877h0M175 828h0M236 884h0M205 854h0M209 875h0M186 879h0M235 916h0M225 869h0M200 887h0M224 852h0M202 861h0M187 891h0M174 851h0M228 923h0M222 858h0M226 854h0M240 851h0M192 825h0M213 839h0M237 851h0M175 860h0M219 835h0M169 873h0M251 899h0M159 850h0M260 900h0M259 935h0M229 907h0M160 832h0M254 901h0M214 870h0M213 913h0M177 836h0M188 819h0M161 821h0M216 859h0M222 841h0M185 814h0M213 844h0M189 876h0M208 859h0M245 869h0M210 870h0M217 866h0M217 850h0M198 826h0M211 894h0M235 877h0M198 883h0M236 837h0M215 870h0M247 910h0M213 856h0M186 897h0M224 911h0M185 843h0M215 909h0M218 859h0M158 816h0M199 880h0M236 867h0M200 881h0M226 833h0M234 871h0M197 883h0M152 832h0M233 876h0M199 860h0M211 850h0M209 839h0M165 854h0M232 895h0M215 862h0M194 883h0M207 910h0M203 855h0M247 863h0M176 858h0M228 854h0M206 880h0M198 881h0M172 833h0M201 868h0M221 910h0M215 866h0M223 853h0M193 861h0M245 889h0M183 887h0M245 880h0M222 841h0M241 870h0M195 843h0M198 877h0M164 842h0M222 889h0M193 878h0M226 886h0M174 814h0M203 856h0M208 932h0M205 875h0M214 851h0M219 882h0M232 843h0M188 847h0M193 880h0M244 885h0M236 882h0M186 863h0M212 867h0M205 850h0M256 899h0M159 849h0M210 904h0M166 808h0M228 926h0M223 848h0M248 923h0M227 855h0M265 902h0M224 883h0M223 867h0M157 864h0M241 903h0M262 943h0M212 874h0M186 841h0M227 920h0M254 886h0M212 885h0M193 906h0M167 881h0M225 869h0M177 873h0M229 887h0M197 862h0M247 869h0M222 833h0M222 846h0M182 809h0M215 868h0M192 858h0M188 849h0M201 874h0M255 920h0M203 810h0M246 861h0M250 881h0M192 868h0M192 896h0M167 867h0M234 892h0M234 886h0M223 910h0M216 896h0M157 835h0M220 848h0M237 908h0M184 844h0M182 882h0M200 866h0M200 866h0M191 864h0M205 877h0M232 889h0M158 856h0M200 837h0M205 867h0M218 879h0M198 872h0M197 916h0M206 873h0M222 864h0M185 867h0M203 891h0M181 876h0M218 877h0M190 871h0M151 830h0M223 835h0M215 898h0M189 846h0M189 874h0M163 891h0M207 867h0M219 849h0M189 808h0M224 860h0M203 858h0M247 857h0M212 853h0M220 879h0M212 852h0M244 839h0M178 836h0M237 886h0M232 913h0M224 878h0M186 858h0M219 869h0M209 848h0M154 837h0M209 834h0M186 834h0M209 864h0M216 916h0M164 875h0M214 882h0M219 927h0M223 839h0M178 897h0M226 866h0M174 859h0M225 890h0M158 822h0M179 836h0M237 893h0M208 908h0M210 854h0M185 865h0M226 871h0M248 882h0M161 833h0M220 833h0M192 867h0M200 834h0M224 843h0M139 800h0M139 809h0M135 800h0M139 802h0M128 813h0M143 802h0M124 818h0M137 807h0M130 808h0M121 807h0M130 806h0M135 807h0M146 791h0M121 811h0M127 807h0M143 800h0M132 814h0M144 801h0M126 812h0M132 806h0M136 804h0M135 801h0M129 812h0M129 809h0M131 804h0M151 802h0M142 800h0M127 807h0M132 807h0M126 813h0M288 951h0M287 954h0M287 950h0M269 940h0M281 957h0M276 938h0M275 945h0M272 937h0M284 950h0M274 944h0M273 944h0M279 951h0M271 932h0M283 950h0M270 937h0M281 964h0M289 957h0M266 941h0M283 950h0M284 958h0" stroke="#000" stroke-width="2.4" stroke-linecap="square" fill="none"/>
<ellipse transform="translate(209.0 867.6) rotate(48.45)" rx="75.0" ry="43.1" fill="none" stroke="#000" stroke-width="4.5"/>
<ellipse transform="translate(208.0 867.6) rotate(48.45)" rx="37.5" ry="21.6" fill="none" stroke="#000" stroke-width="9.5"/>
<ellipse transform="translate(680.0 1045.0) rotate(27.25)" rx="189.0" ry="80.0" fill="#fde4fd"/><ellipse transform="translate(680.0 1045.0) rotate(27.25)" rx="170.1" ry="72.0" fill="#fcd2fc"/><ellipse transform="translate(680.0 1045.0) rotate(27.25)" rx="151.2" ry="64.0" fill="#fac0fa"/><ellipse transform="translate(680.0 1045.0) rotate(27.25)" rx="132.3" ry="56.0" fill="#f9adf9"/><ellipse transform="translate(680.0 1045.0) rotate(27.25)" rx="113.4" ry="48.0" fill="#f79bf7"/><ellipse transform="translate(680.0 1045.0) rotate(27.25)" rx="94.5" ry="40.0" fill="#f689f6"/><ellipse transform="translate(680.0 1045.0) rotate(27.25)" rx="75.6" ry="32.0" fill="#f477f4"/><ellipse transform="translate(680.0 1045.0) rotate(27.25)" rx="56.7" ry="24.0" fill="#f364f3"/><ellipse transform="translate(680.0 1045.0) rotate(27.25)" rx="37.8" ry="16.0" fill="#f152f1"/><ellipse transform="translate(680.0 1045.0) rotate(27.25)" rx="18.9" ry="8.0" fill="#f040f0"/><ellipse transform="translate(680.0 1045.0) rotate(27.25)" rx="189.0" ry="80.0" fill="none" stroke="#ff00ff" stroke-width="2"/><ellipse transform="translate(680.0 1045.0) rotate(27.25)" rx="94.5" ry="40.0" fill="none" stroke="#ff00ff" stroke-width="4.5"/>
<ellipse transform="translate(671.0 979.5) rotate(34.01)" rx="203.9" ry="113.2" fill="#f3ebe5"/><ellipse transform="translate(671.0 979.5) rotate(34.01)" rx="183.5" ry="101.9" fill="#e9dbd0"/><ellipse transform="translate(671.0 979.5) rotate(34.01)" rx="163.1" ry="90.6" fill="#e0cbbb"/><ellipse transform="translate(671.0 979.5) rotate(34.01)" rx="142.7" ry="79.3" fill="#d6bba7"/><ellipse transform="translate(671.0 979.5) rotate(34.01)" rx="122.3" ry="67.9" fill="#ccab92"/><ellipse transform="translate(671.0 979.5) rotate(34.01)" rx="101.9" ry="56.6" fill="#c39a7d"/><ellipse transform="translate(671.0 979.5) rotate(34.01)" rx="81.6" ry="45.3" fill="#b98a68"/><ellipse transform="translate(671.0 979.5) rotate(34.01)" rx="61.2" ry="34.0" fill="#af7a54"/><ellipse transform="translate(671.0 979.5) rotate(34.01)" rx="40.8" ry="22.6" fill="#a66a3f"/><ellipse transform="translate(671.0 979.5) rotate(34.01)" rx="20.4" ry="11.3" fill="#9c5a2a"/><ellipse transform="translate(671.0 979.5) rotate(34.01)" rx="203.9" ry="113.2" fill="none" stroke="#8b4513" stroke-width="1.7"/><ellipse transform="translate(671.0 979.5) rotate(34.01)" rx="101.9" ry="56.6" fill="none" stroke="#9c5422" stroke-width="3.8"/>
<ellipse transform="translate(798.0 1136.0) rotate(32.32)" rx="168.1" ry="54.5" fill="#e4edfc"/><ellipse transform="translate(798.0 1136.0) rotate(32.32)" rx="151.3" ry="49.1" fill="#cedefb"/><ellipse transform="translate(798.0 1136.0) rotate(32.32)" rx="134.5" ry="43.6" fill="#b7d0fa"/><ellipse transform="translate(798.0 1136.0) rotate(32.32)" rx="117.7" ry="38.2" fill="#a1c1fa"/><ellipse transform="translate(798.0 1136.0) rotate(32.32)" rx="100.9" ry="32.7" fill="#8ab2f9"/><ellipse transform="translate(798.0 1136.0) rotate(32.32)" rx="84.0" ry="27.3" fill="#74a4f8"/><ellipse transform="translate(798.0 1136.0) rotate(32.32)" rx="67.2" ry="21.8" fill="#5d95f7"/><ellipse transform="translate(798.0 1136.0) rotate(32.32)" rx="50.4" ry="16.4" fill="#4786f7"/><ellipse transform="translate(798.0 1136.0) rotate(32.32)" rx="33.6" ry="10.9" fill="#3078f6"/><ellipse transform="translate(798.0 1136.0) rotate(32.32)" rx="16.8" ry="5.5" fill="#1a69f5"/><ellipse transform="translate(798.0 1136.0) rotate(32.32)" rx="168.1" ry="54.5" fill="none" stroke="#1464ff" stroke-width="2"/><ellipse transform="translate(798.0 1136.0) rotate(32.32)" rx="84.0" ry="27.3" fill="none" stroke="#0a64f5" stroke-width="4.5"/>
<path d="M441.5 930.3L448.8 944.6L434.2 944.6Z" fill="#00ff00"/>
<circle cx="564.9" cy="856.5" r="6.6" fill="none" stroke="#c0682a" stroke-width="1.8"/>
<circle cx="564.9" cy="868.3" r="7.4" fill="#ff8800"/>
<circle cx="703.7" cy="862.0" r="6.6" fill="none" stroke="#ff8800" stroke-width="1.8"/>
<path d="M595.8 879.1L603.0 893.4L588.5 893.4Z" fill="#ff0000"/>
<circle cx="534.0" cy="909.0" r="7.4" fill="#cc99ff"/>
<circle cx="518.6" cy="934.2" r="6.6" fill="none" stroke="#a6a6a6" stroke-width="1.8"/>
<circle cx="549.5" cy="952.2" r="6.6" fill="none" stroke="#ff00ff" stroke-width="1.8"/>
<path d="M534.0 966.8L540.6 979.6L527.4 979.6Z" fill="none" stroke="#ff0000" stroke-width="1.8" stroke-linejoin="miter"/>
<path d="M549.5 973.1L556.1 985.9L542.9 985.9Z" fill="none" stroke="#ff00ff" stroke-width="1.8" stroke-linejoin="miter"/>
<path d="M580.3 968.1L586.9 980.9L573.7 980.9Z" fill="none" stroke="#c0682a" stroke-width="1.8" stroke-linejoin="miter"/>
<path d="M595.8 981.5L602.4 994.3L589.1 994.3Z" fill="none" stroke="#ff8800" stroke-width="1.8" stroke-linejoin="miter"/>
<circle cx="595.8" cy="959.8" r="6.6" fill="none" stroke="#ff0000" stroke-width="1.8"/>
<path d="M595.8 954.2L602.4 967.0L589.1 967.0Z" fill="none" stroke="#00ff00" stroke-width="1.8" stroke-linejoin="miter"/>
<path d="M657.5 901.8L664.8 916.1L650.2 916.1Z" fill="#1464ff"/>
<circle cx="626.6" cy="925.8" r="7.4" fill="#8822ff"/>
<circle cx="626.6" cy="934.2" r="7.4" fill="#a6a6a6"/>
<circle cx="611.2" cy="947.2" r="6.6" fill="none" stroke="#cc99ff" stroke-width="1.8"/>
<path d="M626.6 953.4L633.9 967.7L619.3 967.7Z" fill="#5cc8ff"/>
<path d="M672.9 952.1L679.5 964.9L666.3 964.9Z" fill="none" stroke="#5cc8ff" stroke-width="1.8" stroke-linejoin="miter"/>
<path d="M657.5 972.3L664.8 986.6L650.2 986.6Z" fill="#ff00ff"/>
<path d="M719.2 894.6L726.5 908.9L711.9 908.9Z" fill="#cc99ff"/>
<circle cx="719.2" cy="942.6" r="7.4" fill="#ff0000"/>
<path d="M719.2 940.8L726.5 955.1L711.9 955.1Z" fill="#8822ff"/>
<circle cx="703.7" cy="985.0" r="7.4" fill="#ff00ff"/>
<path d="M719.2 978.6L725.8 991.4L712.6 991.4Z" fill="none" stroke="#8822ff" stroke-width="1.8" stroke-linejoin="miter"/>
<circle cx="734.6" cy="987.9" r="7.4" fill="#00ff00"/>
<circle cx="734.6" cy="1011.0" r="6.6" fill="none" stroke="#00ff00" stroke-width="1.8"/>
<circle cx="750.0" cy="1012.2" r="6.6" fill="none" stroke="#5cc8ff" stroke-width="1.8"/>
<circle cx="858.0" cy="1008.0" r="7.4" fill="#1464ff"/>
<path d="M657.5 1027.7L664.8 1042.0L650.2 1042.0Z" fill="#ff8800"/>
<circle cx="672.9" cy="1029.9" r="7.4" fill="#c0682a"/>
<path d="M750.0 1027.7L757.3 1042.0L742.7 1042.0Z" fill="#000000"/>
<path d="M750.0 1052.8L757.3 1067.1L742.7 1067.1Z" fill="#c0682a"/>
<circle cx="657.5" cy="1070.6" r="6.6" fill="none" stroke="#000000" stroke-width="1.8"/>
<path d="M642.0 1075.9L648.6 1088.7L635.4 1088.7Z" fill="none" stroke="#1464ff" stroke-width="1.8" stroke-linejoin="miter"/>
<path d="M672.9 1082.2L679.5 1095.0L666.3 1095.0Z" fill="none" stroke="#000000" stroke-width="1.8" stroke-linejoin="miter"/>
<circle cx="734.6" cy="1081.8" r="6.6" fill="none" stroke="#1464ff" stroke-width="1.8"/>
<rect x="758.4" y="1087.9" width="14" height="14" fill="#000000"/>
<circle cx="796.3" cy="1093.7" r="7.4" fill="#5cc8ff"/>
<path d="M827.1 1113.2L833.7 1126.0L820.5 1126.0Z" fill="none" stroke="#cc99ff" stroke-width="1.8" stroke-linejoin="miter"/>
<circle cx="811.7" cy="1146.9" r="6.6" fill="none" stroke="#8822ff" stroke-width="1.8"/>
<circle cx="672.9" cy="1166.6" r="7.4" fill="#000000"/>
<g fill="none" stroke="#111" stroke-width="1.65" stroke-miterlimit="3"><path transform="translate(699.5 1030.7) scale(0.85 0.92)" d="M0 0V15M10 0V15M0 7.5H10"/><path transform="translate(699.5 1075.4) scale(0.85 0.92)" d="M3 0H7L10 4V11L7 15H3L0 11V4Z"/><path transform="translate(714.9 1072.5) scale(0.85 0.92)" d="M0 15V0H7Q10 0 10 3.5Q10 7 7 7H0"/><path transform="translate(730.3 1085.1) scale(0.85 0.92)" d="M0 15L1 0L5 12L9 0L10 15"/><path transform="translate(745.8 1090.1) scale(0.85 0.92)" d="M0 15V0L10 15V0"/><path transform="translate(822.9 1098.3) scale(0.85 0.92)" d="M0 0H6Q9.5 0 9.5 3.6Q9.5 7 6 7H0M6 7Q10 7 10 11Q10 15 6 15H0V0"/><path transform="translate(838.3 1119.0) scale(0.85 0.92)" d="M0 15L5 0L10 15M2 10H8"/><path transform="translate(730.3 1129.5) scale(0.85 0.92)" d="M2.5 0H7.5M5 0V15M2.5 15H7.5"/><path transform="translate(745.8 1124.1) scale(0.85 0.92)" d="M10 0H0V15M0 7H7"/><path transform="translate(776.6 1125.3) scale(0.85 0.92)" d="M0 0V15H9"/><path transform="translate(745.8 1142.1) scale(0.85 0.92)" d="M8 0V11Q8 15 4.5 15Q1 15 1 12"/><path transform="translate(745.8 1156.8) scale(0.85 0.92)" d="M3 0H7L10 4V11L7 15H3L0 11V4ZM6 11L10 16"/><path transform="translate(792.0 1182.0) scale(0.85 0.92)" d="M0 0H4.5Q10 0 10 7.5Q10 15 4.5 15H0Z"/><path transform="translate(869.2 1208.0) scale(0.85 0.92)" d="M0 0V15M10 0L0 10M3.5 6.5L10 15"/><path transform="translate(915.4 1194.6) scale(0.85 0.92)" d="M10 3Q9 0 5.5 0Q1 0 1 7.5Q1 15 5.5 15Q9 15 10 12"/><path transform="translate(977.1 1223.1) scale(0.85 0.92)" d="M0 15V0H7Q10 0 10 3.5Q10 7 7 7H0M5 7L10 15"/></g>
</g>
<g clip-path="url(#cp2)">
<line x1="260.8" y1="1418.5" x2="260.8" y2="1927.6" stroke="#000" stroke-width="2.6" stroke-dasharray="5.2 10"/>
<line x1="114.5" y1="1659.1" x2="989.4" y2="1659.1" stroke="#000" stroke-width="2.6" stroke-dasharray="5.2 10"/>
<path d="M224 1657h0M326 1678h0M274 1636h0M301 1654h0M217 1622h0M209 1617h0M255 1611h0M261 1615h0M332 1663h0M244 1595h0M188 1720h0M316 1631h0M278 1678h0M297 1648h0M207 1666h0M229 1701h0M222 1593h0M345 1644h0M283 1631h0M316 1617h0M280 1624h0M256 1673h0M337 1694h0M293 1700h0M267 1592h0M250 1655h0M298 1622h0M64 1682h0M303 1676h0M271 1692h0M294 1665h0M309 1642h0M203 1681h0M227 1630h0M194 1615h0M204 1691h0M226 1754h0M253 1660h0M252 1658h0M327 1676h0M231 1613h0M242 1610h0M310 1672h0M258 1715h0M224 1702h0M224 1699h0M213 1708h0M203 1645h0M270 1719h0M274 1692h0M246 1687h0M279 1627h0M239 1693h0M175 1697h0M292 1685h0M283 1597h0M246 1723h0M211 1730h0M241 1721h0M236 1693h0M188 1712h0M348 1651h0M174 1706h0M293 1641h0M214 1601h0M250 1692h0M304 1673h0M263 1651h0M327 1619h0M180 1635h0M258 1640h0M235 1629h0M306 1637h0M257 1728h0M266 1629h0M191 1657h0M280 1584h0M343 1652h0M341 1673h0M253 1703h0M195 1680h0M277 1664h0M350 1686h0M231 1664h0M245 1692h0M213 1717h0M249 1677h0M251 1630h0M274 1688h0M198 1720h0M192 1698h0M200 1670h0M244 1628h0M202 1657h0M224 1682h0M195 1728h0M252 1736h0M307 1697h0M282 1581h0M185 1643h0M255 1659h0M260 1651h0M321 1693h0M329 1660h0M290 1614h0M179 1633h0M260 1645h0M255 1646h0M342 1679h0M194 1645h0M271 1682h0M195 1715h0M231 1684h0M297 1675h0M182 1714h0M236 1611h0M192 1676h0M311 1718h0M258 1586h0M203 1687h0M256 1684h0M264 1707h0M233 1743h0M295 1613h0M268 1702h0M222 1670h0M237 1687h0M294 1654h0M224 1644h0M179 1645h0M245 1597h0M249 1577h0M262 1685h0M333 1633h0M275 1697h0M281 1706h0M256 1741h0M212 1689h0M281 1671h0M227 1701h0M335 1653h0M219 1682h0M179 1629h0M240 1659h0M249 1648h0M331 1696h0M193 1730h0M236 1623h0M250 1737h0M216 1594h0M291 1682h0M247 1613h0M281 1702h0M289 1634h0M288 1644h0M229 1712h0M217 1617h0M250 1681h0M245 1607h0M256 1629h0M202 1715h0M230 1664h0M231 1708h0M197 1655h0M269 1646h0M273 1668h0M290 1722h0M205 1696h0M191 1631h0M239 1677h0M236 1655h0M260 1652h0M342 1624h0M212 1653h0M223 1589h0M286 1627h0M338 1651h0M183 1675h0M235 1670h0M301 1664h0M202 1646h0M281 1641h0M328 1672h0M260 1674h0M288 1644h0M310 1706h0M323 1623h0M214 1727h0M316 1590h0M260 1622h0M273 1662h0M282 1691h0M198 1698h0M208 1678h0M283 1706h0M205 1721h0M209 1659h0M284 1658h0M224 1674h0M264 1680h0M263 1667h0M280 1692h0M299 1660h0M255 1651h0M252 1667h0M263 1681h0M285 1697h0M267 1667h0M270 1616h0M287 1645h0M252 1723h0M304 1682h0M182 1626h0M274 1661h0M271 1662h0M285 1733h0M162 1687h0M347 1666h0M188 1620h0M239 1727h0M233 1684h0M299 1727h0M299 1593h0M290 1642h0M267 1718h0M256 1682h0M241 1600h0M237 1665h0M245 1665h0M321 1692h0M288 1616h0M176 1697h0M218 1729h0M292 1671h0M314 1692h0M306 1678h0M279 1664h0M330 1655h0M284 1652h0M202 1697h0M178 1656h0M265 1672h0M289 1661h0M294 1754h0M233 1670h0M213 1616h0M209 1733h0M306 1690h0M287 1597h0M218 1657h0M244 1682h0M301 1673h0M222 1622h0M233 1696h0M229 1710h0M263 1680h0M315 1602h0M163 1601h0M179 1712h0M168 1682h0M318 1651h0M305 1636h0M308 1684h0M206 1662h0M258 1634h0M224 1712h0M298 1682h0M246 1670h0M263 1608h0M368 1633h0M276 1683h0M213 1660h0M277 1636h0M310 1614h0M262 1721h0M290 1687h0M265 1669h0M264 1623h0M292 1523h0M261 1665h0M252 1671h0M285 1673h0M271 1626h0M297 1665h0M324 1615h0M289 1688h0M176 1668h0M246 1724h0M312 1658h0M172 1689h0M294 1581h0M199 1663h0M282 1704h0M206 1654h0M194 1687h0M279 1653h0M220 1661h0M336 1618h0M244 1656h0M228 1667h0M330 1699h0M202 1664h0M202 1604h0M279 1648h0M274 1633h0M344 1624h0M235 1681h0M258 1755h0M262 1683h0M198 1660h0M289 1595h0M239 1748h0M254 1700h0M247 1659h0M279 1653h0M298 1654h0M305 1707h0M260 1640h0M292 1594h0M303 1644h0M287 1678h0M253 1687h0M283 1680h0M268 1681h0M351 1637h0M203 1734h0M249 1634h0M224 1712h0M190 1685h0M215 1682h0M224 1645h0M295 1726h0M276 1633h0M262 1671h0M166 1727h0M333 1656h0M222 1589h0M260 1646h0M239 1670h0M206 1666h0M244 1692h0M343 1616h0M239 1739h0M255 1686h0M255 1631h0M307 1645h0M213 1673h0M167 1659h0M248 1654h0M296 1608h0M281 1631h0M233 1690h0M288 1633h0M208 1722h0M221 1665h0M214 1611h0M265 1691h0M243 1651h0M245 1687h0M177 1654h0M253 1598h0M175 1702h0M282 1637h0M181 1683h0M284 1716h0M285 1661h0M329 1654h0M253 1695h0M211 1687h0M309 1686h0M250 1643h0M261 1556h0M301 1657h0M313 1614h0M215 1689h0M226 1689h0M253 1656h0M198 1642h0M263 1698h0M244 1723h0M223 1615h0M234 1733h0M208 1659h0M268 1586h0M282 1727h0M229 1677h0M276 1641h0M324 1707h0M272 1710h0M301 1664h0M300 1604h0M228 1685h0M258 1687h0M300 1686h0M214 1683h0M250 1640h0M291 1715h0M202 1656h0M189 1694h0M275 1593h0M233 1652h0M272 1728h0M206 1737h0M225 1669h0M252 1613h0M228 1660h0M196 1655h0M196 1672h0M283 1731h0M262 1618h0M319 1608h0M329 1646h0M309 1657h0M211 1726h0M233 1654h0M206 1710h0M228 1655h0M228 1687h0M218 1691h0M299 1668h0M236 1663h0M176 1655h0M205 1705h0M253 1690h0M356 1727h0M232 1675h0M286 1715h0M267 1682h0M281 1581h0M250 1637h0M216 1678h0M216 1740h0M244 1640h0M206 1717h0M233 1609h0M268 1635h0M227 1648h0M284 1699h0M261 1621h0M309 1589h0M304 1666h0M285 1734h0M319 1645h0M257 1642h0M234 1624h0M293 1692h0M293 1657h0M267 1627h0M310 1652h0M258 1659h0M251 1642h0M225 1662h0M337 1702h0M272 1624h0M267 1707h0M269 1630h0M244 1670h0M216 1648h0M308 1661h0M245 1682h0M252 1719h0M252 1593h0M230 1678h0M271 1621h0M303 1635h0M302 1694h0M284 1698h0M304 1694h0M260 1737h0M301 1658h0M239 1598h0M249 1646h0M227 1670h0M294 1691h0M269 1657h0M267 1679h0M267 1599h0M248 1652h0M323 1637h0M309 1675h0M244 1610h0M226 1689h0M253 1675h0M212 1675h0M225 1704h0M168 1686h0M252 1672h0M214 1644h0M266 1674h0M230 1665h0M221 1720h0M317 1666h0M250 1612h0M264 1684h0M216 1637h0M262 1633h0M227 1693h0M270 1691h0M326 1615h0M310 1615h0M318 1716h0M322 1707h0M234 1743h0M177 1704h0M274 1721h0M242 1696h0M305 1659h0M237 1708h0M254 1682h0M267 1701h0M295 1632h0M250 1684h0M224 1653h0M237 1725h0M293 1590h0M258 1684h0M338 1635h0M310 1696h0M334 1675h0M237 1743h0M287 1643h0M283 1641h0M228 1706h0M292 1686h0M333 1661h0M275 1685h0M240 1702h0M243 1687h0M266 1624h0M306 1694h0M283 1626h0M187 1665h0M236 1689h0M218 1656h0M218 1678h0M298 1651h0M274 1643h0M300 1675h0M297 1600h0M346 1676h0M307 1689h0M256 1601h0M210 1578h0M327 1686h0M319 1685h0M254 1655h0M256 1652h0M282 1648h0M200 1619h0M336 1656h0M162 1654h0M242 1654h0M197 1662h0M254 1631h0M242 1740h0M299 1717h0M224 1692h0M231 1705h0M235 1735h0M313 1629h0M316 1639h0M262 1675h0M230 1646h0M223 1622h0M205 1624h0M216 1661h0M268 1624h0M267 1649h0M203 1687h0M257 1679h0M257 1660h0M288 1737h0M230 1654h0M219 1600h0M218 1681h0M267 1631h0M224 1634h0M287 1625h0M302 1671h0M225 1658h0M280 1662h0M288 1621h0M246 1616h0M259 1636h0M286 1688h0M303 1607h0M282 1686h0M278 1648h0M230 1588h0M249 1745h0M275 1673h0M257 1635h0M304 1615h0M341 1670h0M232 1691h0M253 1583h0M210 1723h0M258 1599h0M227 1702h0M259 1660h0M280 1713h0M164 1688h0M308 1607h0M276 1628h0M264 1576h0M273 1706h0M261 1616h0M240 1711h0M204 1716h0M209 1687h0M235 1756h0M244 1735h0M250 1600h0M251 1624h0M224 1698h0M222 1621h0M312 1694h0M219 1613h0M263 1646h0M232 1724h0M226 1661h0M320 1627h0M260 1627h0M297 1712h0M329 1688h0M249 1658h0M295 1668h0M229 1726h0M303 1624h0M346 1690h0M257 1719h0M188 1653h0M261 1611h0M209 1622h0M162 1732h0M294 1656h0M265 1638h0M261 1640h0M147 1706h0M268 1622h0M260 1671h0M236 1724h0M220 1679h0M213 1724h0M274 1679h0M296 1627h0M294 1621h0M309 1675h0M253 1656h0M274 1591h0M178 1646h0M186 1646h0M274 1661h0M240 1668h0M180 1635h0M292 1630h0M255 1686h0M285 1581h0M244 1653h0M205 1696h0M267 1656h0M267 1750h0M169 1689h0M284 1618h0M296 1625h0M289 1646h0M258 1669h0M231 1567h0M296 1585h0M258 1713h0M234 1658h0M212 1645h0M243 1649h0M249 1641h0M188 1724h0M161 1597h0M259 1610h0M210 1663h0M215 1605h0M311 1713h0M327 1626h0M306 1735h0M245 1619h0M214 1683h0M165 1656h0M246 1618h0M335 1688h0M226 1641h0M281 1672h0M311 1600h0M287 1677h0M251 1634h0M241 1726h0M237 1651h0M300 1665h0M231 1643h0M305 1716h0M296 1647h0M284 1704h0M219 1703h0M207 1601h0M206 1621h0M224 1628h0M259 1602h0M235 1573h0M257 1759h0M279 1617h0M255 1658h0M304 1633h0M230 1683h0M259 1646h0M313 1697h0M241 1696h0M181 1714h0M185 1681h0M291 1713h0M312 1614h0M250 1676h0M225 1713h0M270 1727h0M209 1652h0M221 1666h0M293 1591h0M258 1735h0M283 1699h0M313 1694h0M286 1694h0M282 1578h0M281 1630h0M279 1582h0M182 1692h0M237 1719h0M332 1650h0M285 1724h0M188 1678h0M250 1683h0M303 1686h0M178 1667h0M278 1682h0M300 1632h0M277 1645h0M273 1673h0M228 1697h0M246 1690h0M236 1676h0M256 1725h0M281 1674h0M190 1695h0M244 1722h0M313 1658h0M238 1660h0M176 1695h0M217 1630h0M261 1693h0M250 1711h0M287 1639h0M276 1667h0M287 1633h0M353 1625h0M237 1700h0M257 1692h0M262 1716h0M197 1679h0M335 1660h0M224 1714h0M261 1615h0M221 1680h0M298 1681h0M262 1619h0M277 1626h0M256 1672h0M333 1607h0M261 1693h0M221 1701h0M219 1669h0M191 1717h0M212 1680h0M237 1662h0M270 1682h0M278 1705h0M221 1662h0M247 1684h0M245 1654h0M310 1647h0M247 1634h0M317 1697h0M204 1612h0M182 1646h0M312 1592h0M271 1700h0M294 1617h0M183 1656h0M273 1624h0M301 1628h0M277 1701h0M253 1647h0M202 1689h0M190 1693h0M249 1664h0M267 1644h0M279 1631h0M208 1640h0M259 1660h0M222 1633h0M258 1628h0M285 1616h0M260 1623h0M261 1692h0M321 1712h0M251 1743h0M270 1614h0M240 1666h0M239 1732h0M283 1671h0M254 1558h0M233 1685h0M358 1526h0M265 1589h0M318 1664h0M288 1659h0M259 1705h0M230 1696h0M340 1684h0M335 1686h0M288 1594h0M286 1640h0M257 1607h0M254 1687h0M294 1703h0M226 1652h0M204 1609h0M294 1622h0M247 1660h0M262 1593h0M194 1655h0M122 1592h0M203 1627h0M263 1710h0M323 1595h0M256 1600h0M260 1627h0M318 1652h0M276 1665h0M274 1711h0M218 1645h0M283 1629h0M239 1634h0M318 1636h0M207 1669h0M300 1674h0M288 1654h0M322 1651h0M277 1727h0M283 1596h0M272 1597h0M282 1617h0M252 1659h0M236 1635h0M235 1600h0M201 1661h0M251 1742h0M275 1657h0M284 1707h0M240 1602h0M251 1646h0M310 1600h0M307 1605h0M282 1675h0M205 1677h0M278 1591h0M244 1662h0M284 1692h0M306 1675h0M252 1667h0M313 1716h0M278 1626h0M275 1636h0M182 1589h0M238 1669h0M290 1619h0M251 1718h0M281 1641h0M262 1730h0M238 1644h0M193 1609h0M279 1693h0M314 1622h0M216 1665h0M219 1677h0M274 1561h0M269 1706h0M279 1668h0M301 1645h0M322 1692h0M213 1568h0M250 1682h0M280 1684h0M335 1668h0M208 1729h0M195 1654h0M212 1664h0M314 1654h0M276 1644h0M254 1692h0M230 1673h0M261 1608h0M262 1616h0M198 1634h0M255 1610h0M224 1623h0M284 1639h0M212 1648h0M249 1648h0M204 1684h0M270 1742h0M194 1668h0M276 1640h0M249 1685h0M248 1703h0M262 1582h0M235 1617h0M195 1712h0M261 1611h0M252 1651h0M345 1634h0M235 1609h0M240 1650h0M288 1661h0M279 1596h0M319 1729h0M221 1725h0M225 1678h0M234 1622h0M279 1693h0M210 1614h0M183 1698h0M217 1724h0M216 1704h0M209 1656h0M225 1644h0M340 1675h0M324 1762h0M266 1700h0M311 1623h0M276 1615h0M232 1709h0M248 1634h0M198 1645h0M217 1687h0M256 1645h0M296 1664h0M211 1618h0M236 1738h0M232 1659h0M238 1679h0M286 1691h0M292 1635h0M172 1657h0M258 1673h0M263 1680h0M199 1639h0M254 1733h0M227 1623h0M259 1701h0M277 1612h0M215 1645h0M199 1695h0M255 1637h0M225 1611h0M257 1663h0M271 1682h0M277 1680h0M290 1689h0M234 1545h0M244 1642h0M247 1604h0M286 1675h0M181 1702h0M325 1661h0M233 1618h0M258 1654h0M335 1576h0M244 1653h0M196 1708h0M275 1689h0M301 1612h0M258 1686h0M269 1628h0M242 1630h0M297 1594h0M226 1688h0M324 1630h0M325 1681h0M288 1704h0M251 1636h0M215 1664h0M292 1669h0M316 1658h0M280 1712h0M289 1653h0M297 1552h0M309 1525h0M318 1532h0M296 1550h0M310 1524h0M301 1547h0M320 1521h0M319 1515h0M329 1497h0M303 1542h0M321 1523h0M294 1553h0M293 1552h0M303 1537h0M304 1532h0M329 1503h0M321 1521h0M320 1516h0M296 1546h0M302 1539h0M280 1564h0M284 1560h0M332 1506h0M285 1561h0M286 1557h0M134 1722h0M156 1694h0M174 1671h0M165 1681h0M162 1700h0M168 1692h0M128 1739h0M126 1732h0M177 1682h0M136 1733h0M167 1679h0M138 1719h0M146 1709h0M174 1678h0M117 1742h0M138 1724h0M127 1730h0M141 1725h0M144 1704h0M158 1689h0M174 1667h0M144 1711h0M151 1704h0M124 1739h0M145 1717h0M379 1687h0M356 1671h0M360 1684h0M369 1686h0M375 1690h0M375 1685h0M385 1693h0M394 1712h0M385 1707h0M362 1688h0M382 1693h0M376 1690h0M385 1708h0M371 1687h0M394 1698h0M361 1678h0M370 1683h0M394 1701h0M387 1694h0M379 1688h0M374 1682h0M363 1678h0M370 1682h0M353 1677h0M355 1682h0M307 1756h0M306 1759h0M317 1768h0M292 1741h0M294 1748h0M289 1737h0M304 1755h0M293 1739h0M285 1746h0M289 1746h0M295 1746h0M301 1751h0" stroke="#000" stroke-width="2.4" stroke-linecap="square" fill="none"/>
<ellipse transform="translate(258.5 1660.8) rotate(-30.11)" rx="97.0" ry="81.0" fill="none" stroke="#000" stroke-width="4.5"/>
<ellipse transform="translate(258.3 1661.0) rotate(-25.19)" rx="49.8" ry="40.7" fill="none" stroke="#000" stroke-width="9.5"/>
<ellipse transform="translate(712.4 1721.8) rotate(15.74)" rx="150.8" ry="103.0" fill="#fde4fd"/><ellipse transform="translate(712.4 1721.8) rotate(15.74)" rx="135.7" ry="92.7" fill="#fcd2fc"/><ellipse transform="translate(712.4 1721.8) rotate(15.74)" rx="120.6" ry="82.4" fill="#fac0fa"/><ellipse transform="translate(712.4 1721.8) rotate(15.74)" rx="105.6" ry="72.1" fill="#f9adf9"/><ellipse transform="translate(712.4 1721.8) rotate(15.74)" rx="90.5" ry="61.8" fill="#f79bf7"/><ellipse transform="translate(712.4 1721.8) rotate(15.74)" rx="75.4" ry="51.5" fill="#f689f6"/><ellipse transform="translate(712.4 1721.8) rotate(15.74)" rx="60.3" ry="41.2" fill="#f477f4"/><ellipse transform="translate(712.4 1721.8) rotate(15.74)" rx="45.2" ry="30.9" fill="#f364f3"/><ellipse transform="translate(712.4 1721.8) rotate(15.74)" rx="30.2" ry="20.6" fill="#f152f1"/><ellipse transform="translate(712.4 1721.8) rotate(15.74)" rx="15.1" ry="10.3" fill="#f040f0"/><ellipse transform="translate(712.4 1721.8) rotate(15.74)" rx="150.8" ry="103.0" fill="none" stroke="#ff00ff" stroke-width="2"/><ellipse transform="translate(712.4 1721.8) rotate(15.74)" rx="75.4" ry="51.5" fill="none" stroke="#ff00ff" stroke-width="4.5"/>
<ellipse transform="translate(728.0 1699.0) rotate(-7.92)" rx="130.6" ry="91.1" fill="#f3ebe5"/><ellipse transform="translate(728.0 1699.0) rotate(-7.92)" rx="117.6" ry="82.0" fill="#e9dbd0"/><ellipse transform="translate(728.0 1699.0) rotate(-7.92)" rx="104.5" ry="72.9" fill="#e0cbbb"/><ellipse transform="translate(728.0 1699.0) rotate(-7.92)" rx="91.4" ry="63.8" fill="#d6bba7"/><ellipse transform="translate(728.0 1699.0) rotate(-7.92)" rx="78.4" ry="54.7" fill="#ccab92"/><ellipse transform="translate(728.0 1699.0) rotate(-7.92)" rx="65.3" ry="45.5" fill="#c39a7d"/><ellipse transform="translate(728.0 1699.0) rotate(-7.92)" rx="52.3" ry="36.4" fill="#b98a68"/><ellipse transform="translate(728.0 1699.0) rotate(-7.92)" rx="39.2" ry="27.3" fill="#af7a54"/><ellipse transform="translate(728.0 1699.0) rotate(-7.92)" rx="26.1" ry="18.2" fill="#a66a3f"/><ellipse transform="translate(728.0 1699.0) rotate(-7.92)" rx="13.1" ry="9.1" fill="#9c5a2a"/><ellipse transform="translate(728.0 1699.0) rotate(-7.92)" rx="130.6" ry="91.1" fill="none" stroke="#8b4513" stroke-width="1.7"/><ellipse transform="translate(728.0 1699.0) rotate(-7.92)" rx="65.3" ry="45.5" fill="none" stroke="#9c5422" stroke-width="3.8"/>
<ellipse transform="translate(846.0 1734.3) rotate(-58.08)" rx="112.9" ry="90.1" fill="#e4edfc"/><ellipse transform="translate(846.0 1734.3) rotate(-58.08)" rx="101.6" ry="81.1" fill="#cedefb"/><ellipse transform="translate(846.0 1734.3) rotate(-58.08)" rx="90.3" ry="72.1" fill="#b7d0fa"/><ellipse transform="translate(846.0 1734.3) rotate(-58.08)" rx="79.0" ry="63.1" fill="#a1c1fa"/><ellipse transform="translate(846.0 1734.3) rotate(-58.08)" rx="67.7" ry="54.1" fill="#8ab2f9"/><ellipse transform="translate(846.0 1734.3) rotate(-58.08)" rx="56.4" ry="45.0" fill="#74a4f8"/><ellipse transform="translate(846.0 1734.3) rotate(-58.08)" rx="45.2" ry="36.0" fill="#5d95f7"/><ellipse transform="translate(846.0 1734.3) rotate(-58.08)" rx="33.9" ry="27.0" fill="#4786f7"/><ellipse transform="translate(846.0 1734.3) rotate(-58.08)" rx="22.6" ry="18.0" fill="#3078f6"/><ellipse transform="translate(846.0 1734.3) rotate(-58.08)" rx="11.3" ry="9.0" fill="#1a69f5"/><ellipse transform="translate(846.0 1734.3) rotate(-58.08)" rx="112.9" ry="90.1" fill="none" stroke="#1464ff" stroke-width="2"/><ellipse transform="translate(846.0 1734.3) rotate(-58.08)" rx="56.4" ry="45.0" fill="none" stroke="#0a64f5" stroke-width="4.5"/>
<circle cx="571.2" cy="1647.7" r="6.6" fill="none" stroke="#cc99ff" stroke-width="1.8"/>
<circle cx="610.0" cy="1661.8" r="6.6" fill="none" stroke="#ff00ff" stroke-width="1.8"/>
<circle cx="610.0" cy="1680.2" r="6.6" fill="none" stroke="#a6a6a6" stroke-width="1.8"/>
<path d="M629.4 1695.7L636.7 1710.0L622.1 1710.0Z" fill="#5cc8ff"/>
<circle cx="629.4" cy="1725.6" r="6.6" fill="none" stroke="#5cc8ff" stroke-width="1.8"/>
<path d="M648.8 1688.6L656.1 1702.9L641.5 1702.9Z" fill="#00ff00"/>
<circle cx="551.8" cy="1786.8" r="7.4" fill="#000000"/>
<path d="M590.6 1846.9L597.2 1859.7L584.0 1859.7Z" fill="none" stroke="#ff00ff" stroke-width="1.8" stroke-linejoin="miter"/>
<circle cx="687.6" cy="1613.2" r="7.4" fill="#ff8800"/>
<path d="M668.2 1646.9L674.8 1659.7L661.6 1659.7Z" fill="none" stroke="#c0682a" stroke-width="1.8" stroke-linejoin="miter"/>
<circle cx="687.6" cy="1648.2" r="7.4" fill="#c0682a"/>
<circle cx="687.6" cy="1646.2" r="7.4" fill="#8822ff"/>
<path d="M687.6 1674.5L694.9 1688.8L680.3 1688.8Z" fill="#1464ff"/>
<path d="M687.6 1704.6L694.2 1717.4L681.0 1717.4Z" fill="none" stroke="#ff8800" stroke-width="1.8" stroke-linejoin="miter"/>
<path d="M687.6 1731.0L694.2 1743.8L681.0 1743.8Z" fill="none" stroke="#8822ff" stroke-width="1.8" stroke-linejoin="miter"/>
<circle cx="687.6" cy="1747.8" r="6.6" fill="none" stroke="#ff0000" stroke-width="1.8"/>
<circle cx="687.6" cy="1770.4" r="7.4" fill="#cc99ff"/>
<path d="M707.0 1688.6L714.3 1702.9L699.7 1702.9Z" fill="#ff8800"/>
<circle cx="726.4" cy="1705.3" r="7.4" fill="#ff0000"/>
<path d="M726.4 1709.3L733.0 1722.1L719.8 1722.1Z" fill="none" stroke="#1464ff" stroke-width="1.8" stroke-linejoin="miter"/>
<path d="M726.4 1698.8L733.7 1713.1L719.1 1713.1Z" fill="#ff00ff"/>
<path d="M726.4 1762.6L733.0 1775.4L719.8 1775.4Z" fill="none" stroke="#ff0000" stroke-width="1.8" stroke-linejoin="miter"/>
<circle cx="726.4" cy="1780.8" r="6.6" fill="none" stroke="#8822ff" stroke-width="1.8"/>
<circle cx="726.4" cy="1812.9" r="6.6" fill="none" stroke="#00ff00" stroke-width="1.8"/>
<path d="M765.2 1643.8L772.5 1658.1L757.9 1658.1Z" fill="#ff0000"/>
<circle cx="745.8" cy="1665.1" r="7.4" fill="#a6a6a6"/>
<circle cx="745.8" cy="1677.0" r="6.6" fill="none" stroke="#ff8800" stroke-width="1.8"/>
<path d="M745.8 1676.8L753.1 1691.1L738.5 1691.1Z" fill="#8822ff"/>
<path d="M745.8 1740.4L752.4 1753.2L739.2 1753.2Z" fill="none" stroke="#000000" stroke-width="1.8" stroke-linejoin="miter"/>
<path d="M804.0 1591.8L811.3 1606.1L796.7 1606.1Z" fill="#cc99ff"/>
<circle cx="765.2" cy="1700.5" r="7.4" fill="#5cc8ff"/>
<path d="M765.2 1725.6L771.8 1738.4L758.6 1738.4Z" fill="none" stroke="#5cc8ff" stroke-width="1.8" stroke-linejoin="miter"/>
<circle cx="765.2" cy="1728.9" r="7.4" fill="#ff00ff"/>
<circle cx="784.6" cy="1711.0" r="7.4" fill="#c0682a"/>
<path d="M784.6 1695.8L791.9 1710.1L777.3 1710.1Z" fill="#c0682a"/>
<circle cx="784.6" cy="1729.8" r="7.4" fill="#00ff00"/>
<circle cx="804.0" cy="1707.6" r="7.4" fill="#1464ff"/>
<path d="M823.4 1694.1L830.0 1706.9L816.8 1706.9Z" fill="none" stroke="#cc99ff" stroke-width="1.8" stroke-linejoin="miter"/>
<rect x="816.4" y="1745.5" width="14" height="14" fill="#000000"/>
<path d="M823.4 1758.5L830.7 1772.8L816.1 1772.8Z" fill="#000000"/>
<g fill="none" stroke="#111" stroke-width="1.65" stroke-miterlimit="3"><path transform="translate(741.5 1671.0) scale(0.85 0.92)" d="M3 0H7L10 4V11L7 15H3L0 11V4Z"/><path transform="translate(761.0 1711.6) scale(0.85 0.92)" d="M0 0V15M10 0L0 10M3.5 6.5L10 15"/><path transform="translate(761.0 1746.5) scale(0.85 0.92)" d="M0 15L1 0L5 12L9 0L10 15"/><path transform="translate(799.8 1688.0) scale(0.85 0.92)" d="M3 0H7L10 4V11L7 15H3L0 11V4Z"/><path transform="translate(819.2 1685.1) scale(0.85 0.92)" d="M10 0H0V15M0 7H7"/><path transform="translate(819.2 1705.4) scale(0.85 0.92)" d="M0 15L5 0L10 15M2 10H8"/><path transform="translate(838.5 1684.2) scale(0.85 0.92)" d="M10 3Q9 0 5.5 0Q1 0 1 7.5Q1 15 5.5 15Q9 15 10 12"/><path transform="translate(838.5 1650.2) scale(0.85 0.92)" d="M0 0V15M10 0V15M0 7.5H10"/><path transform="translate(896.8 1632.3) scale(0.85 0.92)" d="M0 0H6Q9.5 0 9.5 3.6Q9.5 7 6 7H0M6 7Q10 7 10 11Q10 15 6 15H0V0"/><path transform="translate(877.4 1729.1) scale(0.85 0.92)" d="M0 0H4.5Q10 0 10 7.5Q10 15 4.5 15H0Z"/><path transform="translate(858.0 1743.2) scale(0.85 0.92)" d="M8 0V11Q8 15 4.5 15Q1 15 1 12"/><path transform="translate(799.8 1760.7) scale(0.85 0.92)" d="M0 15V0H7Q10 0 10 3.5Q10 7 7 7H0"/><path transform="translate(838.5 1758.8) scale(0.85 0.92)" d="M2.5 0H7.5M5 0V15M2.5 15H7.5"/><path transform="translate(858.0 1764.5) scale(0.85 0.92)" d="M0 0V15H9"/><path transform="translate(858.0 1799.9) scale(0.85 0.92)" d="M0 15V0L10 15V0"/><path transform="translate(974.4 1717.3) scale(0.85 0.92)" d="M0 15V0H7Q10 0 10 3.5Q10 7 7 7H0M5 7L10 15"/><path transform="translate(799.8 1863.0) scale(0.85 0.92)" d="M3 0H7L10 4V11L7 15H3L0 11V4ZM6 11L10 16"/></g>
</g>
<g clip-path="url(#cp3)">
<line x1="336.3" y1="2101.3" x2="336.3" y2="2611.8" stroke="#000" stroke-width="2.6" stroke-dasharray="5.2 10"/>
<line x1="114.1" y1="2356.3" x2="989.4" y2="2356.3" stroke="#000" stroke-width="2.6" stroke-dasharray="5.2 10"/>
<path d="M379 2354h0M386 2347h0M346 2303h0M292 2371h0M365 2356h0M378 2292h0M312 2390h0M407 2291h0M303 2361h0M378 2377h0M443 2342h0M303 2411h0M412 2298h0M251 2413h0M382 2370h0M341 2349h0M303 2358h0M285 2382h0M362 2379h0M305 2357h0M334 2338h0M356 2344h0M347 2391h0M302 2395h0M319 2366h0M460 2292h0M469 2310h0M428 2312h0M406 2318h0M362 2376h0M370 2361h0M329 2364h0M381 2374h0M328 2370h0M286 2388h0M366 2350h0M386 2343h0M336 2436h0M241 2389h0M397 2331h0M322 2366h0M336 2405h0M430 2327h0M336 2373h0M355 2340h0M399 2319h0M194 2455h0M331 2309h0M366 2354h0M451 2287h0M280 2346h0M213 2398h0M322 2410h0M455 2334h0M450 2300h0M358 2342h0M321 2354h0M288 2355h0M361 2401h0M343 2353h0M352 2333h0M212 2391h0M305 2347h0M408 2304h0M322 2362h0M282 2365h0M404 2364h0M342 2328h0M389 2300h0M283 2373h0M343 2386h0M359 2346h0M252 2359h0M235 2416h0M361 2337h0M301 2413h0M345 2341h0M369 2363h0M298 2397h0M451 2313h0M274 2375h0M420 2342h0M364 2329h0M239 2356h0M293 2416h0M414 2305h0M400 2302h0M393 2364h0M291 2347h0M361 2354h0M382 2325h0M289 2367h0M300 2382h0M302 2352h0M331 2364h0M433 2305h0M453 2295h0M279 2367h0M421 2309h0M421 2355h0M247 2360h0M403 2317h0M239 2368h0M344 2386h0M206 2356h0M264 2407h0M272 2399h0M362 2373h0M264 2420h0M301 2358h0M496 2282h0M294 2415h0M333 2375h0M357 2296h0M338 2376h0M408 2378h0M433 2308h0M303 2369h0M382 2343h0M494 2320h0M401 2309h0M441 2302h0M226 2384h0M224 2387h0M395 2370h0M365 2351h0M281 2398h0M274 2429h0M323 2365h0M353 2349h0M394 2371h0M272 2374h0M328 2347h0M298 2318h0M238 2435h0M228 2374h0M246 2360h0M264 2348h0M317 2357h0M386 2311h0M396 2314h0M393 2293h0M264 2342h0M229 2393h0M315 2377h0M242 2384h0M356 2377h0M358 2300h0M381 2337h0M433 2319h0M257 2358h0M333 2353h0M367 2362h0M383 2294h0M277 2401h0M208 2442h0M296 2424h0M300 2324h0M339 2360h0M313 2421h0M274 2357h0M278 2359h0M321 2363h0M306 2418h0M336 2348h0M352 2363h0M409 2314h0M408 2355h0M174 2442h0M339 2400h0M380 2336h0M271 2342h0M354 2338h0M337 2348h0M339 2362h0M261 2445h0M418 2322h0M365 2401h0M246 2310h0M405 2309h0M435 2349h0M375 2361h0M284 2373h0M341 2303h0M357 2362h0M302 2364h0M282 2404h0M383 2390h0M372 2341h0M372 2382h0M202 2413h0M304 2404h0M369 2361h0M298 2392h0M429 2327h0M401 2355h0M226 2385h0M401 2327h0M279 2360h0M451 2318h0M344 2342h0M353 2368h0M304 2400h0M288 2405h0M459 2294h0M300 2396h0M262 2421h0M307 2371h0M441 2312h0M317 2336h0M382 2297h0M425 2307h0M326 2403h0M226 2409h0M291 2379h0M437 2281h0M331 2360h0M399 2297h0M314 2370h0M373 2333h0M391 2285h0M443 2289h0M341 2355h0M277 2379h0M283 2353h0M241 2383h0M303 2377h0M409 2351h0M311 2383h0M305 2355h0M366 2342h0M244 2414h0M276 2411h0M294 2370h0M278 2383h0M246 2374h0M382 2392h0M447 2299h0M311 2384h0M320 2383h0M289 2378h0M310 2351h0M277 2426h0M382 2352h0M343 2355h0M331 2357h0M342 2372h0M288 2392h0M330 2341h0M341 2346h0M509 2290h0M329 2331h0M294 2400h0M333 2360h0M231 2403h0M324 2325h0M381 2351h0M379 2343h0M248 2403h0M281 2428h0M232 2432h0M373 2334h0M401 2282h0M316 2329h0M259 2359h0M297 2399h0M390 2313h0M362 2373h0M372 2328h0M242 2417h0M340 2353h0M217 2415h0M381 2363h0M326 2397h0M255 2338h0M455 2300h0M266 2425h0M338 2317h0M277 2339h0M309 2358h0M392 2337h0M381 2319h0M374 2307h0M378 2301h0M332 2367h0M253 2404h0M354 2324h0M309 2359h0M369 2382h0M398 2335h0M270 2371h0M265 2432h0M334 2378h0M367 2329h0M238 2432h0M335 2384h0M432 2338h0M407 2285h0M299 2323h0M386 2291h0M355 2361h0M379 2319h0M258 2375h0M307 2355h0M278 2398h0M401 2318h0M344 2332h0M287 2326h0M258 2380h0M379 2324h0M377 2349h0M311 2370h0M316 2407h0M357 2326h0M395 2318h0M275 2400h0M221 2407h0M326 2347h0M381 2335h0M413 2333h0M327 2336h0M358 2359h0M233 2395h0M277 2425h0M376 2295h0M333 2370h0M432 2290h0M237 2400h0M401 2348h0M274 2364h0M301 2371h0M356 2368h0M378 2372h0M312 2350h0M257 2403h0M326 2355h0M362 2325h0M292 2376h0M419 2359h0M328 2337h0M304 2388h0M313 2375h0M428 2317h0M210 2427h0M342 2345h0M297 2358h0M337 2349h0M456 2321h0M332 2329h0M416 2326h0M459 2302h0M372 2361h0M220 2387h0M424 2286h0M328 2332h0M398 2381h0M312 2382h0M405 2341h0M332 2369h0M423 2349h0M357 2342h0M347 2326h0M359 2339h0M313 2407h0M321 2395h0M256 2386h0M302 2417h0M431 2294h0M244 2387h0M299 2400h0M364 2329h0M277 2362h0M413 2314h0M297 2351h0M390 2308h0M334 2308h0M400 2321h0M386 2353h0M332 2390h0M293 2388h0M419 2343h0M361 2365h0M291 2398h0M277 2387h0M402 2359h0M388 2308h0M290 2371h0M261 2346h0M370 2337h0M230 2418h0M367 2348h0M341 2396h0M273 2341h0M394 2285h0M307 2368h0M252 2405h0M364 2369h0M328 2319h0M354 2359h0M429 2339h0M311 2346h0M296 2354h0M386 2321h0M168 2379h0M368 2345h0M264 2336h0M312 2335h0M302 2368h0M358 2307h0M278 2394h0M371 2322h0M253 2387h0M299 2384h0M316 2333h0M373 2341h0M258 2423h0M338 2386h0M374 2377h0M320 2331h0M297 2375h0M299 2366h0M304 2365h0M329 2383h0M314 2394h0M373 2303h0M450 2340h0M291 2381h0M412 2311h0M262 2398h0M412 2304h0M313 2379h0M246 2397h0M276 2383h0M190 2419h0M344 2351h0M290 2355h0M298 2358h0M260 2370h0M340 2324h0M461 2329h0M352 2363h0M340 2344h0M458 2297h0M322 2338h0M321 2403h0M396 2294h0M402 2362h0M417 2357h0M331 2382h0M310 2391h0M331 2397h0M420 2297h0M319 2396h0M373 2340h0M322 2314h0M269 2397h0M325 2320h0M273 2339h0M358 2331h0M321 2374h0M293 2395h0M345 2370h0M275 2417h0M332 2371h0M380 2385h0M345 2358h0M340 2347h0M316 2390h0M355 2330h0M229 2383h0M268 2374h0M344 2374h0M292 2332h0M374 2344h0M278 2363h0M343 2361h0M325 2346h0M253 2373h0M252 2408h0M274 2352h0M208 2399h0M391 2360h0M305 2334h0M292 2389h0M314 2422h0M260 2422h0M402 2341h0M391 2317h0M423 2316h0M458 2303h0M213 2406h0M461 2289h0M222 2406h0M229 2436h0M273 2339h0M286 2384h0M306 2341h0M387 2319h0M261 2403h0M307 2347h0M200 2402h0M372 2289h0M402 2361h0M325 2345h0M363 2316h0M289 2379h0M145 2406h0M368 2347h0M363 2345h0M364 2331h0M339 2364h0M357 2391h0M250 2392h0M351 2397h0M268 2426h0M299 2341h0M247 2396h0M270 2414h0M362 2322h0M395 2312h0M347 2326h0M276 2351h0M290 2400h0M393 2316h0M247 2410h0M455 2288h0M277 2429h0M354 2317h0M240 2424h0M351 2306h0M291 2416h0M360 2376h0M335 2354h0M262 2388h0M288 2396h0M350 2368h0M203 2412h0M379 2323h0M297 2380h0M321 2370h0M355 2305h0M262 2422h0M315 2385h0M294 2349h0M315 2393h0M391 2349h0M252 2407h0M377 2301h0M354 2367h0M420 2297h0M386 2309h0M403 2289h0M328 2366h0M265 2381h0M404 2326h0M345 2334h0M322 2358h0M312 2352h0M301 2361h0M339 2386h0M314 2374h0M293 2360h0M363 2320h0M402 2326h0M292 2378h0M443 2337h0M305 2346h0M305 2371h0M218 2384h0M436 2327h0M260 2375h0M416 2313h0M466 2290h0M389 2319h0M353 2354h0M418 2321h0M232 2389h0M373 2304h0M293 2404h0M363 2353h0M333 2344h0M221 2435h0M335 2389h0M367 2364h0M353 2396h0M379 2350h0M361 2348h0M399 2340h0M333 2343h0M375 2322h0M359 2389h0M289 2369h0M319 2380h0M354 2299h0M265 2432h0M319 2361h0M353 2387h0M350 2372h0M289 2385h0M368 2320h0M317 2357h0M296 2394h0M258 2410h0M284 2424h0M417 2329h0M387 2344h0M252 2377h0M329 2341h0M366 2319h0M263 2424h0M351 2342h0M406 2358h0M276 2401h0M358 2400h0M379 2387h0M278 2366h0M230 2391h0M325 2420h0M352 2405h0M252 2372h0M388 2348h0M444 2342h0M411 2308h0M279 2381h0M271 2384h0M357 2326h0M299 2359h0M325 2360h0M325 2405h0M439 2320h0M329 2373h0M262 2340h0M279 2373h0M318 2342h0M299 2373h0M413 2335h0M331 2275h0M288 2354h0M353 2328h0M263 2354h0M313 2357h0M349 2352h0M203 2407h0M326 2335h0M371 2349h0M242 2387h0M340 2321h0M322 2357h0M210 2407h0M404 2317h0M307 2332h0M331 2388h0M380 2371h0M364 2326h0M267 2427h0M324 2384h0M290 2371h0M362 2316h0M394 2312h0M352 2337h0M410 2344h0M350 2326h0M255 2401h0M221 2402h0M270 2407h0M376 2380h0M344 2396h0M315 2337h0M372 2355h0M292 2382h0M253 2369h0M252 2400h0M335 2356h0M311 2363h0M283 2359h0M279 2427h0M457 2293h0M423 2338h0M417 2338h0M422 2352h0M267 2386h0M284 2405h0M390 2296h0M341 2341h0M277 2349h0M240 2387h0M291 2395h0M380 2355h0M328 2365h0M427 2359h0M245 2354h0M304 2373h0M379 2353h0M313 2348h0M404 2373h0M320 2412h0M320 2376h0M451 2294h0M318 2310h0M261 2399h0M422 2343h0M382 2368h0M455 2318h0M473 2302h0M297 2358h0M414 2309h0M378 2306h0M254 2407h0M274 2412h0M221 2398h0M369 2343h0M409 2338h0M320 2367h0M279 2378h0M319 2379h0M429 2282h0M350 2390h0M392 2322h0M269 2369h0M327 2335h0M354 2309h0M350 2386h0M264 2407h0M265 2406h0M311 2393h0M394 2301h0M425 2352h0M382 2360h0M381 2339h0M296 2386h0M399 2340h0M297 2388h0M353 2369h0M206 2401h0M337 2413h0M267 2384h0M401 2318h0M392 2354h0M263 2413h0M396 2332h0M386 2350h0M320 2335h0M251 2410h0M333 2339h0M298 2349h0M319 2353h0M471 2298h0M291 2399h0M293 2355h0M320 2370h0M260 2376h0M394 2307h0M408 2283h0M411 2293h0M317 2403h0M339 2342h0M347 2390h0M343 2399h0M332 2330h0M391 2318h0M307 2378h0M360 2378h0M392 2327h0M340 2355h0M401 2313h0M344 2340h0M314 2386h0M381 2312h0M314 2340h0M372 2316h0M271 2405h0M352 2377h0M294 2372h0M396 2337h0M389 2289h0M213 2415h0M298 2320h0M348 2364h0M338 2351h0M461 2321h0M300 2418h0M360 2370h0M246 2396h0M308 2344h0M259 2382h0M363 2375h0M334 2386h0M359 2371h0M246 2425h0M264 2369h0M200 2408h0M331 2347h0M370 2349h0M243 2366h0M381 2334h0M380 2343h0M276 2408h0M345 2412h0M322 2407h0M416 2342h0M274 2343h0M282 2379h0M400 2346h0M385 2325h0M417 2342h0M240 2372h0M283 2340h0M444 2356h0M313 2327h0M445 2329h0M347 2342h0M312 2363h0M284 2358h0M308 2341h0M360 2303h0M381 2352h0M260 2390h0M324 2380h0M213 2407h0M359 2315h0M268 2366h0M305 2364h0M314 2412h0M287 2344h0M294 2361h0M337 2354h0M345 2350h0M315 2352h0M308 2405h0M314 2361h0M307 2366h0M395 2341h0M260 2385h0M275 2370h0M437 2320h0M316 2395h0M334 2311h0M303 2361h0M455 2330h0M338 2384h0M353 2343h0M316 2325h0M413 2324h0M330 2349h0M363 2353h0M381 2338h0M332 2383h0M353 2352h0M360 2368h0M293 2371h0M450 2299h0M266 2351h0M242 2395h0M325 2370h0M441 2312h0M336 2376h0M378 2368h0M381 2347h0M407 2339h0M333 2315h0M423 2334h0M340 2379h0M312 2353h0M292 2422h0M355 2335h0M180 2377h0M324 2363h0M385 2288h0M328 2371h0M356 2314h0M238 2400h0M338 2400h0M435 2281h0M332 2379h0M288 2367h0M333 2341h0M259 2401h0M233 2435h0M236 2368h0M389 2340h0M294 2462h0M440 2290h0M381 2316h0M367 2352h0M302 2386h0M427 2299h0M425 2310h0M322 2388h0M328 2344h0M408 2357h0M368 2372h0M360 2317h0M320 2360h0M277 2357h0M343 2331h0M321 2345h0M279 2368h0M365 2318h0M357 2351h0M339 2394h0M311 2377h0M388 2331h0M296 2378h0M245 2376h0M344 2313h0M317 2354h0M232 2386h0M269 2438h0M281 2385h0M306 2343h0M468 2301h0M328 2370h0M338 2313h0M336 2377h0M405 2368h0M307 2396h0M282 2356h0M385 2355h0M385 2371h0M357 2361h0M322 2326h0M310 2354h0M284 2405h0M353 2352h0M438 2288h0M286 2419h0M308 2375h0M382 2321h0M331 2388h0M212 2419h0M390 2298h0M320 2334h0M374 2366h0M374 2304h0M365 2378h0M353 2364h0M355 2350h0M254 2394h0M461 2317h0M270 2383h0M380 2376h0M265 2385h0M371 2381h0M429 2296h0M407 2358h0M341 2328h0M354 2330h0M341 2387h0M299 2370h0M317 2392h0M314 2365h0M368 2330h0M390 2305h0M283 2392h0M428 2349h0M397 2314h0M250 2360h0M332 2355h0M327 2374h0M378 2333h0M417 2345h0M287 2394h0M358 2318h0M388 2304h0M396 2369h0M398 2325h0M392 2312h0M213 2398h0M343 2350h0M291 2415h0M369 2347h0M329 2357h0M234 2392h0M392 2345h0M234 2397h0M371 2335h0M473 2352h0M230 2429h0M336 2344h0M372 2313h0M373 2384h0M389 2393h0M385 2323h0M389 2305h0M300 2333h0M373 2337h0M355 2361h0M314 2373h0M446 2328h0M336 2366h0M379 2307h0M291 2393h0M220 2431h0M448 2335h0M322 2354h0M332 2329h0M273 2385h0M263 2403h0M365 2345h0M236 2421h0M482 2280h0M488 2299h0M501 2309h0M469 2257h0M486 2289h0M499 2304h0M480 2275h0M507 2320h0M485 2276h0M491 2299h0M494 2307h0M489 2292h0M468 2254h0M484 2268h0M480 2283h0M473 2255h0M502 2314h0M466 2267h0M493 2292h0M497 2312h0M154 2393h0M175 2422h0M169 2407h0M156 2395h0M179 2426h0M164 2406h0M156 2381h0M160 2391h0M158 2395h0M165 2420h0M149 2377h0M168 2408h0M186 2427h0M145 2380h0M186 2430h0M252 2462h0M241 2452h0M240 2448h0M229 2463h0M227 2440h0M243 2457h0M233 2444h0M258 2469h0M248 2466h0M248 2459h0M249 2464h0M226 2439h0" stroke="#000" stroke-width="2.4" stroke-linecap="square" fill="none"/>
<ellipse transform="translate(334.7 2358.0) rotate(-25.25)" rx="150.0" ry="52.0" fill="none" stroke="#000" stroke-width="4.5"/>
<ellipse transform="translate(335.2 2358.2) rotate(-25.39)" rx="78.1" ry="27.1" fill="none" stroke="#000" stroke-width="9.5"/>
<ellipse transform="translate(772.0 2304.0) rotate(11.25)" rx="155.0" ry="88.6" fill="#fde4fd"/><ellipse transform="translate(772.0 2304.0) rotate(11.25)" rx="139.5" ry="79.7" fill="#fcd2fc"/><ellipse transform="translate(772.0 2304.0) rotate(11.25)" rx="124.0" ry="70.9" fill="#fac0fa"/><ellipse transform="translate(772.0 2304.0) rotate(11.25)" rx="108.5" ry="62.0" fill="#f9adf9"/><ellipse transform="translate(772.0 2304.0) rotate(11.25)" rx="93.0" ry="53.2" fill="#f79bf7"/><ellipse transform="translate(772.0 2304.0) rotate(11.25)" rx="77.5" ry="44.3" fill="#f689f6"/><ellipse transform="translate(772.0 2304.0) rotate(11.25)" rx="62.0" ry="35.4" fill="#f477f4"/><ellipse transform="translate(772.0 2304.0) rotate(11.25)" rx="46.5" ry="26.6" fill="#f364f3"/><ellipse transform="translate(772.0 2304.0) rotate(11.25)" rx="31.0" ry="17.7" fill="#f152f1"/><ellipse transform="translate(772.0 2304.0) rotate(11.25)" rx="15.5" ry="8.9" fill="#f040f0"/><ellipse transform="translate(772.0 2304.0) rotate(11.25)" rx="155.0" ry="88.6" fill="none" stroke="#ff00ff" stroke-width="2"/><ellipse transform="translate(772.0 2304.0) rotate(11.25)" rx="77.5" ry="44.3" fill="none" stroke="#ff00ff" stroke-width="4.5"/>
<ellipse transform="translate(786.0 2311.0) rotate(10.94)" rx="159.0" ry="89.6" fill="#f3ebe5"/><ellipse transform="translate(781.8 2311.0) rotate(10.94)" rx="143.1" ry="80.6" fill="#e9dbd0"/><ellipse transform="translate(777.6 2311.0) rotate(10.94)" rx="127.2" ry="71.7" fill="#e0cbbb"/><ellipse transform="translate(773.4 2311.0) rotate(10.94)" rx="111.3" ry="62.7" fill="#d6bba7"/><ellipse transform="translate(769.2 2311.0) rotate(10.94)" rx="95.4" ry="53.8" fill="#ccab92"/><ellipse transform="translate(765.0 2311.0) rotate(10.94)" rx="79.5" ry="44.8" fill="#c39a7d"/><ellipse transform="translate(760.8 2311.0) rotate(10.94)" rx="63.6" ry="35.8" fill="#b98a68"/><ellipse transform="translate(756.6 2311.0) rotate(10.94)" rx="47.7" ry="26.9" fill="#af7a54"/><ellipse transform="translate(752.4 2311.0) rotate(10.94)" rx="31.8" ry="17.9" fill="#a66a3f"/><ellipse transform="translate(748.2 2311.0) rotate(10.94)" rx="15.9" ry="9.0" fill="#9c5a2a"/><ellipse transform="translate(786.0 2311.0) rotate(10.94)" rx="159.0" ry="89.6" fill="none" stroke="#8b4513" stroke-width="1.7"/><ellipse transform="translate(765.0 2311.0) rotate(10.94)" rx="79.5" ry="44.8" fill="none" stroke="#9c5422" stroke-width="3.8"/>
<ellipse transform="translate(825.0 2299.0) rotate(-31.61)" rx="154.3" ry="67.1" fill="#e4edfc"/><ellipse transform="translate(823.6 2299.0) rotate(-31.61)" rx="138.8" ry="60.4" fill="#cedefb"/><ellipse transform="translate(822.2 2299.0) rotate(-31.61)" rx="123.4" ry="53.6" fill="#b7d0fa"/><ellipse transform="translate(820.8 2299.0) rotate(-31.61)" rx="108.0" ry="46.9" fill="#a1c1fa"/><ellipse transform="translate(819.4 2299.0) rotate(-31.61)" rx="92.6" ry="40.2" fill="#8ab2f9"/><ellipse transform="translate(818.0 2299.0) rotate(-31.61)" rx="77.1" ry="33.5" fill="#74a4f8"/><ellipse transform="translate(816.6 2299.0) rotate(-31.61)" rx="61.7" ry="26.8" fill="#5d95f7"/><ellipse transform="translate(815.2 2299.0) rotate(-31.61)" rx="46.3" ry="20.1" fill="#4786f7"/><ellipse transform="translate(813.8 2299.0) rotate(-31.61)" rx="30.9" ry="13.4" fill="#3078f6"/><ellipse transform="translate(812.4 2299.0) rotate(-31.61)" rx="15.4" ry="6.7" fill="#1a69f5"/><ellipse transform="translate(825.0 2299.0) rotate(-31.61)" rx="154.3" ry="67.1" fill="none" stroke="#1464ff" stroke-width="2"/><ellipse transform="translate(818.0 2299.0) rotate(-31.61)" rx="77.1" ry="33.5" fill="none" stroke="#0a64f5" stroke-width="4.5"/>
<circle cx="571.7" cy="2288.2" r="6.6" fill="none" stroke="#5cc8ff" stroke-width="1.8"/>
<path d="M635.9 2232.4L643.2 2246.7L628.6 2246.7Z" fill="#00ff00"/>
<path d="M635.9 2311.2L643.2 2325.5L628.6 2325.5Z" fill="#5cc8ff"/>
<path d="M657.3 2257.4L664.6 2271.7L650.0 2271.7Z" fill="#ff00ff"/>
<circle cx="678.7" cy="2253.7" r="7.4" fill="#ff0000"/>
<path d="M678.7 2271.0L685.3 2283.8L672.1 2283.8Z" fill="none" stroke="#00ff00" stroke-width="1.8" stroke-linejoin="miter"/>
<circle cx="678.7" cy="2289.2" r="6.6" fill="none" stroke="#8822ff" stroke-width="1.8"/>
<path d="M678.7 2313.5L685.3 2326.3L672.1 2326.3Z" fill="none" stroke="#ff00ff" stroke-width="1.8" stroke-linejoin="miter"/>
<circle cx="700.1" cy="2242.0" r="6.6" fill="none" stroke="#ff0000" stroke-width="1.8"/>
<circle cx="700.1" cy="2335.4" r="6.6" fill="none" stroke="#00ff00" stroke-width="1.8"/>
<path d="M700.1 2337.1L706.7 2349.9L693.5 2349.9Z" fill="none" stroke="#8822ff" stroke-width="1.8" stroke-linejoin="miter"/>
<path d="M700.1 2346.5L706.7 2359.3L693.5 2359.3Z" fill="none" stroke="#c0682a" stroke-width="1.8" stroke-linejoin="miter"/>
<circle cx="721.5" cy="2269.3" r="7.4" fill="#5cc8ff"/>
<path d="M721.5 2284.3L728.8 2298.6L714.2 2298.6Z" fill="#1464ff"/>
<path d="M721.5 2291.3L728.1 2304.1L714.9 2304.1Z" fill="none" stroke="#000000" stroke-width="1.8" stroke-linejoin="miter"/>
<circle cx="721.5" cy="2323.2" r="7.4" fill="#ff8800"/>
<path d="M721.5 2333.9L728.8 2348.2L714.2 2348.2Z" fill="#ff8800"/>
<circle cx="742.9" cy="2291.5" r="6.6" fill="none" stroke="#ff8800" stroke-width="1.8"/>
<circle cx="742.9" cy="2341.1" r="7.4" fill="#ff00ff"/>
<circle cx="742.9" cy="2374.2" r="7.4" fill="#1464ff"/>
<path d="M764.3 2389.8L771.6 2404.1L757.0 2404.1Z" fill="#5cc8ff"/>
<circle cx="764.3" cy="2392.1" r="7.4" fill="#000000"/>
<circle cx="742.9" cy="2231.1" r="6.6" fill="none" stroke="#cc99ff" stroke-width="1.8"/>
<path d="M785.7 2223.7L792.3 2236.5L779.1 2236.5Z" fill="none" stroke="#cc99ff" stroke-width="1.8" stroke-linejoin="miter"/>
<circle cx="785.7" cy="2265.5" r="6.6" fill="none" stroke="#ff00ff" stroke-width="1.8"/>
<circle cx="764.3" cy="2297.7" r="6.6" fill="none" stroke="#a6a6a6" stroke-width="1.8"/>
<circle cx="764.3" cy="2307.1" r="6.6" fill="none" stroke="#c0682a" stroke-width="1.8"/>
<path d="M764.3 2304.0L770.9 2316.8L757.7 2316.8Z" fill="none" stroke="#ff0000" stroke-width="1.8" stroke-linejoin="miter"/>
<path d="M764.3 2314.8L771.6 2329.1L757.0 2329.1Z" fill="#000000"/>
<path d="M764.3 2322.8L771.6 2337.1L757.0 2337.1Z" fill="#000000"/>
<path d="M785.7 2309.3L793.0 2323.6L778.4 2323.6Z" fill="#cc99ff"/>
<rect x="778.7" y="2362.4" width="14" height="14" fill="#000000"/>
<path d="M807.1 2247.3L813.7 2260.1L800.5 2260.1Z" fill="none" stroke="#ff8800" stroke-width="1.8" stroke-linejoin="miter"/>
<circle cx="807.1" cy="2264.6" r="6.6" fill="none" stroke="#1464ff" stroke-width="1.8"/>
<path d="M807.1 2266.8L814.4 2281.1L799.8 2281.1Z" fill="#8822ff"/>
<path d="M807.1 2295.2L814.4 2309.5L799.8 2309.5Z" fill="#c0682a"/>
<circle cx="807.1" cy="2326.0" r="7.4" fill="#a6a6a6"/>
<circle cx="807.1" cy="2336.4" r="7.4" fill="#00ff00"/>
<circle cx="807.1" cy="2348.2" r="7.4" fill="#cc99ff"/>
<path d="M935.5 2189.9L942.8 2204.2L928.2 2204.2Z" fill="#ff0000"/>
<circle cx="871.3" cy="2316.5" r="7.4" fill="#c0682a"/>
<circle cx="849.9" cy="2360.0" r="6.6" fill="none" stroke="#000000" stroke-width="1.8"/>
<circle cx="892.7" cy="2374.2" r="7.4" fill="#8822ff"/>
<g fill="none" stroke="#111" stroke-width="1.65" stroke-miterlimit="3"><path transform="translate(738.6 2272.8) scale(0.85 0.92)" d="M0 0V15M10 0L0 10M3.5 6.5L10 15"/><path transform="translate(738.6 2324.8) scale(0.85 0.92)" d="M0 0V15H9"/><path transform="translate(717.2 2346.0) scale(0.85 0.92)" d="M0 0V11Q0 15 5 15Q10 15 10 11V0"/><path transform="translate(760.0 2367.3) scale(0.85 0.92)" d="M0 15V0H7Q10 0 10 3.5Q10 7 7 7H0"/><path transform="translate(781.5 2244.5) scale(0.85 0.92)" d="M2.5 0H7.5M5 0V15M2.5 15H7.5"/><path transform="translate(760.0 2305.1) scale(0.85 0.92)" d="M0 15L1 0L5 12L9 0L10 15"/><path transform="translate(760.0 2311.1) scale(0.85 0.92)" d="M0 15V0L10 15V0"/><path transform="translate(824.2 2264.3) scale(0.85 0.92)" d="M8 0V11Q8 15 4.5 15Q1 15 1 12"/><path transform="translate(824.2 2300.2) scale(0.85 0.92)" d="M0 0V15M10 0V15M0 7.5H10"/><path transform="translate(845.7 2237.4) scale(0.85 0.92)" d="M0 0H4.5Q10 0 10 7.5Q10 15 4.5 15H0Z"/><path transform="translate(888.5 2253.0) scale(0.85 0.92)" d="M0 0H6Q9.5 0 9.5 3.6Q9.5 7 6 7H0M6 7Q10 7 10 11Q10 15 6 15H0V0"/><path transform="translate(845.7 2193.5) scale(0.85 0.92)" d="M10 3Q9 0 5.5 0Q1 0 1 7.5Q1 15 5.5 15Q9 15 10 12"/><path transform="translate(931.2 2217.1) scale(0.85 0.92)" d="M0 15V0H7Q10 0 10 3.5Q10 7 7 7H0M5 7L10 15"/><path transform="translate(974.0 2289.3) scale(0.85 0.92)" d="M0 15L5 0L10 15M2 10H8"/></g>
</g>
<path d="M125.1 560.9v-5M125.1 50.8v5M149.8 560.9v-5M149.8 50.8v5M174.5 560.9v-5M174.5 50.8v5M199.2 560.9v-5M199.2 50.8v5M223.9 560.9v-5M223.9 50.8v5M248.6 560.9v-10M248.6 50.8v10M273.3 560.9v-5M273.3 50.8v5M298 560.9v-5M298 50.8v5M322.7 560.9v-5M322.7 50.8v5M347.4 560.9v-5M347.4 50.8v5M372.1 560.9v-5M372.1 50.8v5M396.7 560.9v-5M396.7 50.8v5M421.4 560.9v-5M421.4 50.8v5M446.1 560.9v-5M446.1 50.8v5M470.8 560.9v-5M470.8 50.8v5M495.5 560.9v-10M495.5 50.8v10M520.2 560.9v-5M520.2 50.8v5M544.9 560.9v-5M544.9 50.8v5M569.6 560.9v-5M569.6 50.8v5M594.3 560.9v-5M594.3 50.8v5M619 560.9v-5M619 50.8v5M643.6 560.9v-5M643.6 50.8v5M668.3 560.9v-5M668.3 50.8v5M693 560.9v-5M693 50.8v5M717.7 560.9v-5M717.7 50.8v5M742.4 560.9v-10M742.4 50.8v10M767.1 560.9v-5M767.1 50.8v5M791.8 560.9v-5M791.8 50.8v5M816.5 560.9v-5M816.5 50.8v5M841.2 560.9v-5M841.2 50.8v5M865.9 560.9v-5M865.9 50.8v5M890.5 560.9v-5M890.5 50.8v5M915.2 560.9v-5M915.2 50.8v5M939.9 560.9v-5M939.9 50.8v5M964.6 560.9v-5M964.6 50.8v5M989.3 560.9v-10M989.3 50.8v10M114.2 560.7h8.7M989.5 560.7h-8.7M114.2 550.5h8.7M989.5 550.5h-8.7M114.2 540.3h8.7M989.5 540.3h-8.7M114.2 530.1h8.7M989.5 530.1h-8.7M114.2 519.9h8.7M989.5 519.9h-8.7M114.2 509.7h17.6M989.5 509.7h-17.6M114.2 499.5h8.7M989.5 499.5h-8.7M114.2 489.3h8.7M989.5 489.3h-8.7M114.2 479.1h8.7M989.5 479.1h-8.7M114.2 468.9h8.7M989.5 468.9h-8.7M114.2 458.7h8.7M989.5 458.7h-8.7M114.2 448.5h8.7M989.5 448.5h-8.7M114.2 438.3h8.7M989.5 438.3h-8.7M114.2 428.1h8.7M989.5 428.1h-8.7M114.2 417.9h8.7M989.5 417.9h-8.7M114.2 407.7h17.6M989.5 407.7h-17.6M114.2 397.5h8.7M989.5 397.5h-8.7M114.2 387.3h8.7M989.5 387.3h-8.7M114.2 377.1h8.7M989.5 377.1h-8.7M114.2 366.9h8.7M989.5 366.9h-8.7M114.2 356.7h8.7M989.5 356.7h-8.7M114.2 346.5h8.7M989.5 346.5h-8.7M114.2 336.3h8.7M989.5 336.3h-8.7M114.2 326.1h8.7M989.5 326.1h-8.7M114.2 315.9h8.7M989.5 315.9h-8.7M114.2 305.7h17.6M989.5 305.7h-17.6M114.2 295.5h8.7M989.5 295.5h-8.7M114.2 285.3h8.7M989.5 285.3h-8.7M114.2 275.1h8.7M989.5 275.1h-8.7M114.2 264.9h8.7M989.5 264.9h-8.7M114.2 254.7h8.7M989.5 254.7h-8.7M114.2 244.5h8.7M989.5 244.5h-8.7M114.2 234.3h8.7M989.5 234.3h-8.7M114.2 224.1h8.7M989.5 224.1h-8.7M114.2 213.9h8.7M989.5 213.9h-8.7M114.2 203.7h17.6M989.5 203.7h-17.6M114.2 193.5h8.7M989.5 193.5h-8.7M114.2 183.3h8.7M989.5 183.3h-8.7M114.2 173.1h8.7M989.5 173.1h-8.7M114.2 162.9h8.7M989.5 162.9h-8.7M114.2 152.7h8.7M989.5 152.7h-8.7M114.2 142.5h8.7M989.5 142.5h-8.7M114.2 132.3h8.7M989.5 132.3h-8.7M114.2 122.1h8.7M989.5 122.1h-8.7M114.2 111.9h8.7M989.5 111.9h-8.7M114.2 101.7h17.6M989.5 101.7h-17.6M114.2 91.5h8.7M989.5 91.5h-8.7M114.2 81.3h8.7M989.5 81.3h-8.7M114.2 71.1h8.7M989.5 71.1h-8.7M114.2 60.9h8.7M989.5 60.9h-8.7M114.2 50.7h8.7M989.5 50.7h-8.7" stroke="#000" stroke-width="2" fill="none"/>
<rect x="114.2" y="50.8" width="875.3" height="510.1" fill="none" stroke="#000" stroke-width="2.3"/>
<g font-size="38.5"><text transform="translate(248.6 604.9) scale(0.875 1)" text-anchor="middle">0</text><text transform="translate(495.5 604.9) scale(0.875 1)" text-anchor="middle">1</text><text transform="translate(742.4 604.9) scale(0.875 1)" text-anchor="middle">2</text><text transform="translate(989.3 604.9) scale(0.875 1)" text-anchor="middle">3</text><text transform="translate(104.2 114.5) scale(0.875 1)" text-anchor="end">20</text><text transform="translate(104.2 216.5) scale(0.875 1)" text-anchor="end">10</text><text transform="translate(104.2 318.5) scale(0.875 1)" text-anchor="end">0</text><text transform="translate(104.2 420.5) scale(0.875 1)" text-anchor="end">-10</text><text transform="translate(104.2 522.5) scale(0.875 1)" text-anchor="end">-20</text></g>
<text transform="translate(552.4 33.8) scale(0.97 1)" font-size="45.5" text-anchor="middle">France MAM</text>
<text transform="translate(551.4 642.1) scale(0.952 1)" font-size="36.4" text-anchor="middle">Mean temperature change (<tspan font-size="22" dy="-13.5">o</tspan><tspan dy="13.5">C)</tspan></text>
<text transform="translate(27.8 305.3) rotate(-90) scale(0.952 1)" font-size="36.4" text-anchor="middle">Precipitation change (%)</text>
<path d="M117.5 1244.3v-5M117.5 734.5v5M133 1244.3v-5M133 734.5v5M148.4 1244.3v-5M148.4 734.5v5M163.8 1244.3v-5M163.8 734.5v5M179.2 1244.3v-5M179.2 734.5v5M194.7 1244.3v-5M194.7 734.5v5M210.1 1244.3v-10M210.1 734.5v10M225.5 1244.3v-5M225.5 734.5v5M241 1244.3v-5M241 734.5v5M256.4 1244.3v-5M256.4 734.5v5M271.8 1244.3v-5M271.8 734.5v5M287.2 1244.3v-5M287.2 734.5v5M302.7 1244.3v-5M302.7 734.5v5M318.1 1244.3v-5M318.1 734.5v5M333.5 1244.3v-5M333.5 734.5v5M348.9 1244.3v-5M348.9 734.5v5M364.4 1244.3v-10M364.4 734.5v10M379.8 1244.3v-5M379.8 734.5v5M395.2 1244.3v-5M395.2 734.5v5M410.6 1244.3v-5M410.6 734.5v5M426.1 1244.3v-5M426.1 734.5v5M441.5 1244.3v-5M441.5 734.5v5M456.9 1244.3v-5M456.9 734.5v5M472.3 1244.3v-5M472.3 734.5v5M487.8 1244.3v-5M487.8 734.5v5M503.2 1244.3v-5M503.2 734.5v5M518.6 1244.3v-10M518.6 734.5v10M534 1244.3v-5M534 734.5v5M549.5 1244.3v-5M549.5 734.5v5M564.9 1244.3v-5M564.9 734.5v5M580.3 1244.3v-5M580.3 734.5v5M595.8 1244.3v-5M595.8 734.5v5M611.2 1244.3v-5M611.2 734.5v5M626.6 1244.3v-5M626.6 734.5v5M642 1244.3v-5M642 734.5v5M657.5 1244.3v-5M657.5 734.5v5M672.9 1244.3v-10M672.9 734.5v10M688.3 1244.3v-5M688.3 734.5v5M703.7 1244.3v-5M703.7 734.5v5M719.2 1244.3v-5M719.2 734.5v5M734.6 1244.3v-5M734.6 734.5v5M750 1244.3v-5M750 734.5v5M765.4 1244.3v-5M765.4 734.5v5M780.9 1244.3v-5M780.9 734.5v5M796.3 1244.3v-5M796.3 734.5v5M811.7 1244.3v-5M811.7 734.5v5M827.1 1244.3v-10M827.1 734.5v10M842.6 1244.3v-5M842.6 734.5v5M858 1244.3v-5M858 734.5v5M873.4 1244.3v-5M873.4 734.5v5M888.8 1244.3v-5M888.8 734.5v5M904.3 1244.3v-5M904.3 734.5v5M919.7 1244.3v-5M919.7 734.5v5M935.1 1244.3v-5M935.1 734.5v5M950.5 1244.3v-5M950.5 734.5v5M966 1244.3v-5M966 734.5v5M981.4 1244.3v-10M981.4 734.5v10M114.1 1236.8h8.7M989.3 1236.8h-8.7M114.1 1203.3h8.7M989.3 1203.3h-8.7M114.1 1169.9h8.7M989.3 1169.9h-8.7M114.1 1136.4h17.6M989.3 1136.4h-17.6M114.1 1102.9h8.7M989.3 1102.9h-8.7M114.1 1069.5h8.7M989.3 1069.5h-8.7M114.1 1036h8.7M989.3 1036h-8.7M114.1 1002.5h17.6M989.3 1002.5h-17.6M114.1 969h8.7M989.3 969h-8.7M114.1 935.6h8.7M989.3 935.6h-8.7M114.1 902.1h8.7M989.3 902.1h-8.7M114.1 868.6h17.6M989.3 868.6h-17.6M114.1 835.1h8.7M989.3 835.1h-8.7M114.1 801.6h8.7M989.3 801.6h-8.7M114.1 768.2h8.7M989.3 768.2h-8.7M114.1 734.7h17.6M989.3 734.7h-17.6" stroke="#000" stroke-width="2" fill="none"/>
<rect x="114.1" y="734.5" width="875.2" height="509.8" fill="none" stroke="#000" stroke-width="2.3"/>
<g font-size="38.5"><text transform="translate(210.1 1288.3) scale(0.875 1)" text-anchor="middle">0</text><text transform="translate(364.4 1288.3) scale(0.875 1)" text-anchor="middle">1</text><text transform="translate(518.6 1288.3) scale(0.875 1)" text-anchor="middle">2</text><text transform="translate(672.9 1288.3) scale(0.875 1)" text-anchor="middle">3</text><text transform="translate(827.1 1288.3) scale(0.875 1)" text-anchor="middle">4</text><text transform="translate(981.4 1288.3) scale(0.875 1)" text-anchor="middle">5</text><text transform="translate(104.1 755.9) scale(0.875 1)" text-anchor="end">20</text><text transform="translate(104.1 881.4) scale(0.875 1)" text-anchor="end">0</text><text transform="translate(104.1 1015.3) scale(0.875 1)" text-anchor="end">-20</text><text transform="translate(104.1 1149.2) scale(0.875 1)" text-anchor="end">-40</text></g>
<text transform="translate(552.2 717.5) scale(0.97 1)" font-size="45.5" text-anchor="middle">France JJA</text>
<text transform="translate(551.2 1325.5) scale(0.952 1)" font-size="36.4" text-anchor="middle">Mean temperature change (<tspan font-size="22" dy="-13.5">o</tspan><tspan dy="13.5">C)</tspan></text>
<text transform="translate(27.8 988.9) rotate(-90) scale(0.952 1)" font-size="36.4" text-anchor="middle">Precipitation change (%)</text>
<path d="M125 1927.6v-5M125 1418.5v5M144.4 1927.6v-5M144.4 1418.5v5M163.8 1927.6v-5M163.8 1418.5v5M183.2 1927.6v-5M183.2 1418.5v5M202.6 1927.6v-5M202.6 1418.5v5M222 1927.6v-5M222 1418.5v5M241.4 1927.6v-5M241.4 1418.5v5M260.8 1927.6v-10M260.8 1418.5v10M280.2 1927.6v-5M280.2 1418.5v5M299.6 1927.6v-5M299.6 1418.5v5M319 1927.6v-5M319 1418.5v5M338.4 1927.6v-5M338.4 1418.5v5M357.8 1927.6v-5M357.8 1418.5v5M377.2 1927.6v-5M377.2 1418.5v5M396.6 1927.6v-5M396.6 1418.5v5M416 1927.6v-5M416 1418.5v5M435.4 1927.6v-5M435.4 1418.5v5M454.8 1927.6v-10M454.8 1418.5v10M474.2 1927.6v-5M474.2 1418.5v5M493.6 1927.6v-5M493.6 1418.5v5M513 1927.6v-5M513 1418.5v5M532.4 1927.6v-5M532.4 1418.5v5M551.8 1927.6v-5M551.8 1418.5v5M571.2 1927.6v-5M571.2 1418.5v5M590.6 1927.6v-5M590.6 1418.5v5M610 1927.6v-5M610 1418.5v5M629.4 1927.6v-5M629.4 1418.5v5M648.8 1927.6v-10M648.8 1418.5v10M668.2 1927.6v-5M668.2 1418.5v5M687.6 1927.6v-5M687.6 1418.5v5M707 1927.6v-5M707 1418.5v5M726.4 1927.6v-5M726.4 1418.5v5M745.8 1927.6v-5M745.8 1418.5v5M765.2 1927.6v-5M765.2 1418.5v5M784.6 1927.6v-5M784.6 1418.5v5M804 1927.6v-5M804 1418.5v5M823.4 1927.6v-5M823.4 1418.5v5M842.8 1927.6v-10M842.8 1418.5v10M862.2 1927.6v-5M862.2 1418.5v5M881.6 1927.6v-5M881.6 1418.5v5M901 1927.6v-5M901 1418.5v5M920.4 1927.6v-5M920.4 1418.5v5M939.8 1927.6v-5M939.8 1418.5v5M959.2 1927.6v-5M959.2 1418.5v5M978.6 1927.6v-5M978.6 1418.5v5M114.5 1923.8h8.7M989.4 1923.8h-8.7M114.5 1913.6h8.7M989.4 1913.6h-8.7M114.5 1903.4h8.7M989.4 1903.4h-8.7M114.5 1893.2h8.7M989.4 1893.2h-8.7M114.5 1883.1h8.7M989.4 1883.1h-8.7M114.5 1872.9h8.7M989.4 1872.9h-8.7M114.5 1862.7h17.6M989.4 1862.7h-17.6M114.5 1852.5h8.7M989.4 1852.5h-8.7M114.5 1842.3h8.7M989.4 1842.3h-8.7M114.5 1832.2h8.7M989.4 1832.2h-8.7M114.5 1822h8.7M989.4 1822h-8.7M114.5 1811.8h8.7M989.4 1811.8h-8.7M114.5 1801.6h8.7M989.4 1801.6h-8.7M114.5 1791.4h8.7M989.4 1791.4h-8.7M114.5 1781.3h8.7M989.4 1781.3h-8.7M114.5 1771.1h8.7M989.4 1771.1h-8.7M114.5 1760.9h17.6M989.4 1760.9h-17.6M114.5 1750.7h8.7M989.4 1750.7h-8.7M114.5 1740.5h8.7M989.4 1740.5h-8.7M114.5 1730.4h8.7M989.4 1730.4h-8.7M114.5 1720.2h8.7M989.4 1720.2h-8.7M114.5 1710h8.7M989.4 1710h-8.7M114.5 1699.8h8.7M989.4 1699.8h-8.7M114.5 1689.6h8.7M989.4 1689.6h-8.7M114.5 1679.5h8.7M989.4 1679.5h-8.7M114.5 1669.3h8.7M989.4 1669.3h-8.7M114.5 1659.1h17.6M989.4 1659.1h-17.6M114.5 1648.9h8.7M989.4 1648.9h-8.7M114.5 1638.7h8.7M989.4 1638.7h-8.7M114.5 1628.6h8.7M989.4 1628.6h-8.7M114.5 1618.4h8.7M989.4 1618.4h-8.7M114.5 1608.2h8.7M989.4 1608.2h-8.7M114.5 1598h8.7M989.4 1598h-8.7M114.5 1587.8h8.7M989.4 1587.8h-8.7M114.5 1577.7h8.7M989.4 1577.7h-8.7M114.5 1567.5h8.7M989.4 1567.5h-8.7M114.5 1557.3h17.6M989.4 1557.3h-17.6M114.5 1547.1h8.7M989.4 1547.1h-8.7M114.5 1536.9h8.7M989.4 1536.9h-8.7M114.5 1526.8h8.7M989.4 1526.8h-8.7M114.5 1516.6h8.7M989.4 1516.6h-8.7M114.5 1506.4h8.7M989.4 1506.4h-8.7M114.5 1496.2h8.7M989.4 1496.2h-8.7M114.5 1486h8.7M989.4 1486h-8.7M114.5 1475.9h8.7M989.4 1475.9h-8.7M114.5 1465.7h8.7M989.4 1465.7h-8.7M114.5 1455.5h17.6M989.4 1455.5h-17.6M114.5 1445.3h8.7M989.4 1445.3h-8.7M114.5 1435.1h8.7M989.4 1435.1h-8.7M114.5 1425h8.7M989.4 1425h-8.7" stroke="#000" stroke-width="2" fill="none"/>
<rect x="114.5" y="1418.5" width="874.9" height="509.1" fill="none" stroke="#000" stroke-width="2.3"/>
<g font-size="38.5"><text transform="translate(260.8 1971.6) scale(0.875 1)" text-anchor="middle">0</text><text transform="translate(454.8 1971.6) scale(0.875 1)" text-anchor="middle">1</text><text transform="translate(648.8 1971.6) scale(0.875 1)" text-anchor="middle">2</text><text transform="translate(842.8 1971.6) scale(0.875 1)" text-anchor="middle">3</text><text transform="translate(104.5 1468.3) scale(0.875 1)" text-anchor="end">20</text><text transform="translate(104.5 1570.1) scale(0.875 1)" text-anchor="end">10</text><text transform="translate(104.5 1671.9) scale(0.875 1)" text-anchor="end">0</text><text transform="translate(104.5 1773.7) scale(0.875 1)" text-anchor="end">-10</text><text transform="translate(104.5 1875.5) scale(0.875 1)" text-anchor="end">-20</text></g>
<text transform="translate(552.5 1401.5) scale(0.97 1)" font-size="45.5" text-anchor="middle">France SON</text>
<text transform="translate(551.5 2008.8) scale(0.952 1)" font-size="36.4" text-anchor="middle">Mean temperature change (<tspan font-size="22" dy="-13.5">o</tspan><tspan dy="13.5">C)</tspan></text>
<text transform="translate(27.8 1672.5) rotate(-90) scale(0.952 1)" font-size="36.4" text-anchor="middle">Precipitation change (%)</text>
<path d="M122.3 2611.8v-10M122.3 2101.3v10M143.7 2611.8v-5M143.7 2101.3v5M165.1 2611.8v-5M165.1 2101.3v5M186.5 2611.8v-5M186.5 2101.3v5M207.9 2611.8v-5M207.9 2101.3v5M229.3 2611.8v-5M229.3 2101.3v5M250.7 2611.8v-5M250.7 2101.3v5M272.1 2611.8v-5M272.1 2101.3v5M293.5 2611.8v-5M293.5 2101.3v5M314.9 2611.8v-5M314.9 2101.3v5M336.3 2611.8v-10M336.3 2101.3v10M357.7 2611.8v-5M357.7 2101.3v5M379.1 2611.8v-5M379.1 2101.3v5M400.5 2611.8v-5M400.5 2101.3v5M421.9 2611.8v-5M421.9 2101.3v5M443.3 2611.8v-5M443.3 2101.3v5M464.7 2611.8v-5M464.7 2101.3v5M486.1 2611.8v-5M486.1 2101.3v5M507.5 2611.8v-5M507.5 2101.3v5M528.9 2611.8v-5M528.9 2101.3v5M550.3 2611.8v-10M550.3 2101.3v10M571.7 2611.8v-5M571.7 2101.3v5M593.1 2611.8v-5M593.1 2101.3v5M614.5 2611.8v-5M614.5 2101.3v5M635.9 2611.8v-5M635.9 2101.3v5M657.3 2611.8v-5M657.3 2101.3v5M678.7 2611.8v-5M678.7 2101.3v5M700.1 2611.8v-5M700.1 2101.3v5M721.5 2611.8v-5M721.5 2101.3v5M742.9 2611.8v-5M742.9 2101.3v5M764.3 2611.8v-10M764.3 2101.3v10M785.7 2611.8v-5M785.7 2101.3v5M807.1 2611.8v-5M807.1 2101.3v5M828.5 2611.8v-5M828.5 2101.3v5M849.9 2611.8v-5M849.9 2101.3v5M871.3 2611.8v-5M871.3 2101.3v5M892.7 2611.8v-5M892.7 2101.3v5M914.1 2611.8v-5M914.1 2101.3v5M935.5 2611.8v-5M935.5 2101.3v5M956.9 2611.8v-5M956.9 2101.3v5M978.3 2611.8v-10M978.3 2101.3v10M114.1 2611.6h8.7M989.4 2611.6h-8.7M114.1 2601.3h8.7M989.4 2601.3h-8.7M114.1 2591.1h8.7M989.4 2591.1h-8.7M114.1 2580.9h8.7M989.4 2580.9h-8.7M114.1 2570.7h8.7M989.4 2570.7h-8.7M114.1 2560.5h17.6M989.4 2560.5h-17.6M114.1 2550.3h8.7M989.4 2550.3h-8.7M114.1 2540.1h8.7M989.4 2540.1h-8.7M114.1 2529.9h8.7M989.4 2529.9h-8.7M114.1 2519.7h8.7M989.4 2519.7h-8.7M114.1 2509.5h8.7M989.4 2509.5h-8.7M114.1 2499.2h8.7M989.4 2499.2h-8.7M114.1 2489h8.7M989.4 2489h-8.7M114.1 2478.8h8.7M989.4 2478.8h-8.7M114.1 2468.6h8.7M989.4 2468.6h-8.7M114.1 2458.4h17.6M989.4 2458.4h-17.6M114.1 2448.2h8.7M989.4 2448.2h-8.7M114.1 2438h8.7M989.4 2438h-8.7M114.1 2427.8h8.7M989.4 2427.8h-8.7M114.1 2417.6h8.7M989.4 2417.6h-8.7M114.1 2407.4h8.7M989.4 2407.4h-8.7M114.1 2397.1h8.7M989.4 2397.1h-8.7M114.1 2386.9h8.7M989.4 2386.9h-8.7M114.1 2376.7h8.7M989.4 2376.7h-8.7M114.1 2366.5h8.7M989.4 2366.5h-8.7M114.1 2356.3h17.6M989.4 2356.3h-17.6M114.1 2346.1h8.7M989.4 2346.1h-8.7M114.1 2335.9h8.7M989.4 2335.9h-8.7M114.1 2325.7h8.7M989.4 2325.7h-8.7M114.1 2315.5h8.7M989.4 2315.5h-8.7M114.1 2305.2h8.7M989.4 2305.2h-8.7M114.1 2295h8.7M989.4 2295h-8.7M114.1 2284.8h8.7M989.4 2284.8h-8.7M114.1 2274.6h8.7M989.4 2274.6h-8.7M114.1 2264.4h8.7M989.4 2264.4h-8.7M114.1 2254.2h17.6M989.4 2254.2h-17.6M114.1 2244h8.7M989.4 2244h-8.7M114.1 2233.8h8.7M989.4 2233.8h-8.7M114.1 2223.6h8.7M989.4 2223.6h-8.7M114.1 2213.4h8.7M989.4 2213.4h-8.7M114.1 2203.2h8.7M989.4 2203.2h-8.7M114.1 2192.9h8.7M989.4 2192.9h-8.7M114.1 2182.7h8.7M989.4 2182.7h-8.7M114.1 2172.5h8.7M989.4 2172.5h-8.7M114.1 2162.3h8.7M989.4 2162.3h-8.7M114.1 2152.1h17.6M989.4 2152.1h-17.6M114.1 2141.9h8.7M989.4 2141.9h-8.7M114.1 2131.7h8.7M989.4 2131.7h-8.7M114.1 2121.5h8.7M989.4 2121.5h-8.7M114.1 2111.3h8.7M989.4 2111.3h-8.7M114.1 2101.1h8.7M989.4 2101.1h-8.7" stroke="#000" stroke-width="2" fill="none"/>
<rect x="114.1" y="2101.3" width="875.3" height="510.5" fill="none" stroke="#000" stroke-width="2.3"/>
<g font-size="38.5"><text transform="translate(122.3 2655.8) scale(0.875 1)" text-anchor="middle">-1</text><text transform="translate(336.3 2655.8) scale(0.875 1)" text-anchor="middle">0</text><text transform="translate(550.3 2655.8) scale(0.875 1)" text-anchor="middle">1</text><text transform="translate(764.3 2655.8) scale(0.875 1)" text-anchor="middle">2</text><text transform="translate(978.3 2655.8) scale(0.875 1)" text-anchor="middle">3</text><text transform="translate(104.1 2164.9) scale(0.875 1)" text-anchor="end">20</text><text transform="translate(104.1 2267) scale(0.875 1)" text-anchor="end">10</text><text transform="translate(104.1 2369.1) scale(0.875 1)" text-anchor="end">0</text><text transform="translate(104.1 2471.2) scale(0.875 1)" text-anchor="end">-10</text><text transform="translate(104.1 2573.3) scale(0.875 1)" text-anchor="end">-20</text></g>
<text transform="translate(552.2 2084.3) scale(0.97 1)" font-size="45.5" text-anchor="middle">France DJF</text>
<text transform="translate(551.2 2693) scale(0.952 1)" font-size="36.4" text-anchor="middle">Mean temperature change (<tspan font-size="22" dy="-13.5">o</tspan><tspan dy="13.5">C)</tspan></text>
<text transform="translate(27.8 2356.1) rotate(-90) scale(0.952 1)" font-size="36.4" text-anchor="middle">Precipitation change (%)</text>
</svg></body></html>
